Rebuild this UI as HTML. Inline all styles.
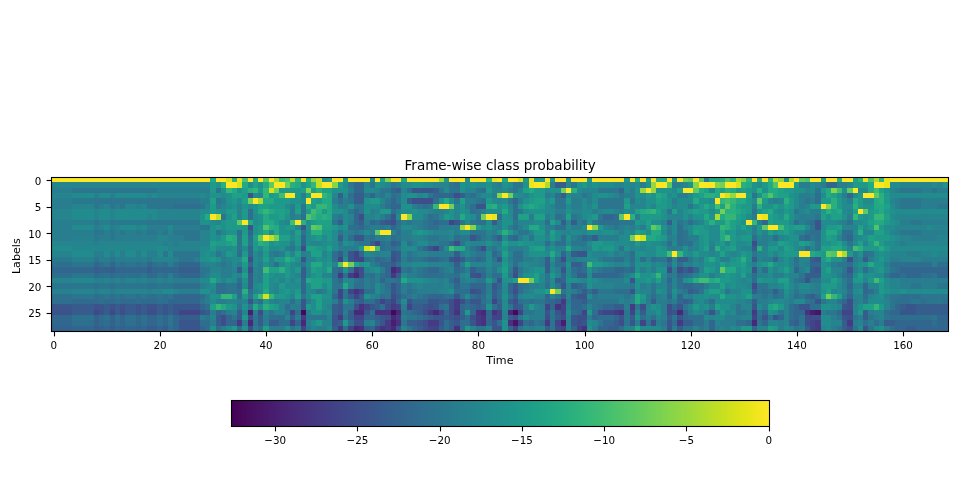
<!DOCTYPE html>
<html><head><meta charset="utf-8"><title>Frame-wise class probability</title>
<style>
html,body{margin:0;padding:0;background:#fff;}
body{width:960px;height:480px;overflow:hidden;}
svg{display:block;}
text{font-family:"DejaVu Sans","Liberation Sans",sans-serif;font-size:11.11px;fill:#000;}
.t{font-size:13.5px;}
.m{text-anchor:middle;}
.e{text-anchor:end;}
.k{stroke:#000;stroke-width:1.1;fill:none;}
</style></head><body>
<svg width="960" height="480" viewBox="0 0 960 480">
<defs><linearGradient id="g" x1="0" x2="1" y1="0" y2="0">
<stop offset="0.0000" stop-color="#440154"/>
<stop offset="0.0156" stop-color="#46075a"/>
<stop offset="0.0312" stop-color="#470d60"/>
<stop offset="0.0469" stop-color="#471365"/>
<stop offset="0.0625" stop-color="#48186a"/>
<stop offset="0.0781" stop-color="#481d6f"/>
<stop offset="0.0938" stop-color="#482374"/>
<stop offset="0.1094" stop-color="#482878"/>
<stop offset="0.1250" stop-color="#472d7b"/>
<stop offset="0.1406" stop-color="#46327e"/>
<stop offset="0.1562" stop-color="#453781"/>
<stop offset="0.1719" stop-color="#443b84"/>
<stop offset="0.1875" stop-color="#424086"/>
<stop offset="0.2031" stop-color="#404588"/>
<stop offset="0.2188" stop-color="#3e4989"/>
<stop offset="0.2344" stop-color="#3d4e8a"/>
<stop offset="0.2500" stop-color="#3b528b"/>
<stop offset="0.2656" stop-color="#39568c"/>
<stop offset="0.2812" stop-color="#375b8d"/>
<stop offset="0.2969" stop-color="#355f8d"/>
<stop offset="0.3125" stop-color="#33638d"/>
<stop offset="0.3281" stop-color="#31678e"/>
<stop offset="0.3438" stop-color="#2f6b8e"/>
<stop offset="0.3594" stop-color="#2e6f8e"/>
<stop offset="0.3750" stop-color="#2c728e"/>
<stop offset="0.3906" stop-color="#2a768e"/>
<stop offset="0.4062" stop-color="#297a8e"/>
<stop offset="0.4219" stop-color="#277e8e"/>
<stop offset="0.4375" stop-color="#26828e"/>
<stop offset="0.4531" stop-color="#25858e"/>
<stop offset="0.4688" stop-color="#23898e"/>
<stop offset="0.4844" stop-color="#228d8d"/>
<stop offset="0.5000" stop-color="#21918c"/>
<stop offset="0.5156" stop-color="#1f948c"/>
<stop offset="0.5312" stop-color="#1f988b"/>
<stop offset="0.5469" stop-color="#1e9c89"/>
<stop offset="0.5625" stop-color="#1fa088"/>
<stop offset="0.5781" stop-color="#20a386"/>
<stop offset="0.5938" stop-color="#22a785"/>
<stop offset="0.6094" stop-color="#25ab82"/>
<stop offset="0.6250" stop-color="#28ae80"/>
<stop offset="0.6406" stop-color="#2db27d"/>
<stop offset="0.6562" stop-color="#32b67a"/>
<stop offset="0.6719" stop-color="#38b977"/>
<stop offset="0.6875" stop-color="#3fbc73"/>
<stop offset="0.7031" stop-color="#46c06f"/>
<stop offset="0.7188" stop-color="#4ec36b"/>
<stop offset="0.7344" stop-color="#56c667"/>
<stop offset="0.7500" stop-color="#5ec962"/>
<stop offset="0.7656" stop-color="#67cc5c"/>
<stop offset="0.7812" stop-color="#70cf57"/>
<stop offset="0.7969" stop-color="#7ad151"/>
<stop offset="0.8125" stop-color="#84d44b"/>
<stop offset="0.8281" stop-color="#8ed645"/>
<stop offset="0.8438" stop-color="#98d83e"/>
<stop offset="0.8594" stop-color="#a2da37"/>
<stop offset="0.8750" stop-color="#addc30"/>
<stop offset="0.8906" stop-color="#b8de29"/>
<stop offset="0.9062" stop-color="#c2df23"/>
<stop offset="0.9219" stop-color="#cde11d"/>
<stop offset="0.9375" stop-color="#d8e219"/>
<stop offset="0.9531" stop-color="#e2e418"/>
<stop offset="0.9688" stop-color="#ece51b"/>
<stop offset="0.9844" stop-color="#f6e620"/>
<stop offset="1.0000" stop-color="#fde725"/>
</linearGradient></defs>
<rect width="960" height="480" fill="#fff"/>
<g shape-rendering="crispEdges">
<path fill="#fde725" d="M51 177h159v5h-159zM216 177h10v5h-10zM248 177h5v5h-5zM258 177h5v5h-5zM269 177h5v5h-5zM301 177h5v5h-5zM332 177h11v5h-11zM348 177h22v5h-22zM375 177h5v5h-5zM391 177h10v5h-10zM407 177h32v5h-32zM449 177h16v5h-16zM470 177h16v5h-16zM497 177h5v5h-5zM508 177h10v5h-10zM545 177h5v5h-5zM555 177h11v5h-11zM571 177h16v5h-16zM592 177h32v5h-32zM630 177h5v5h-5zM640 177h6v5h-6zM651 177h5v5h-5zM667 177h5v5h-5zM677 177h6v5h-6zM693 177h6v5h-6zM752 177h5v5h-5zM762 177h6v5h-6zM794 177h5v5h-5zM810 177h11v5h-11zM826 177h11v5h-11zM842 177h11v5h-11zM890 177h58v5h-58zM226 182h11v6h-11zM274 182h11v6h-11zM322 182h10v6h-10zM534 182h11v6h-11zM656 182h11v6h-11zM699 182h16v6h-16zM725 182h11v6h-11zM778 182h16v6h-16zM874 182h10v6h-10zM566 188h5v5h-5zM646 188h5v5h-5zM683 188h10v5h-10zM853 188h5v5h-5zM285 193h10v5h-10zM311 193h11v5h-11zM502 193h6v5h-6zM720 193h5v5h-5zM736 193h10v5h-10zM863 193h11v5h-11zM253 198h5v6h-5zM306 198h5v6h-5zM715 198h5v6h-5zM439 204h10v5h-10zM821 204h5v5h-5zM858 209h5v5h-5zM210 214h6v6h-6zM401 214h6v6h-6zM486 214h6v6h-6zM624 214h6v6h-6zM757 214h5v6h-5zM242 220h6v5h-6zM295 220h6v5h-6zM746 220h6v5h-6zM465 225h5v5h-5zM587 225h5v5h-5zM768 225h10v5h-10zM380 230h11v5h-11zM263 235h6v6h-6zM635 235h5v6h-5zM370 246h5v5h-5zM672 251h5v6h-5zM799 251h11v6h-11zM837 251h5v6h-5zM343 262h5v5h-5zM518 278h11v5h-11zM550 289h5v5h-5z"/>
<path fill="#ece51b" d="M237 177h5v5h-5zM492 177h5v5h-5zM529 177h5v5h-5zM863 177h5v5h-5zM884 177h6v5h-6zM529 182h5v6h-5zM884 182h6v6h-6zM492 214h5v6h-5zM762 214h6v6h-6z"/>
<path fill="#d8e219" d="M226 177h6v5h-6zM518 177h5v5h-5zM237 182h5v6h-5zM736 182h5v6h-5zM269 188h5v5h-5zM725 193h5v5h-5zM640 235h6v6h-6zM364 246h6v5h-6zM263 294h6v5h-6z"/>
<path fill="#c2df23" d="M290 177h5v5h-5zM316 177h6v5h-6zM773 177h5v5h-5zM316 182h6v6h-6zM216 214h5v6h-5zM269 235h5v6h-5z"/>
<path fill="#addc30" d="M274 177h5v5h-5zM736 177h5v5h-5zM789 177h5v5h-5zM874 177h5v5h-5zM545 182h5v6h-5zM258 198h5v6h-5zM715 214h5v6h-5zM842 251h5v6h-5z"/>
<path fill="#98d83e" d="M311 177h5v5h-5zM439 177h5v5h-5zM778 177h6v5h-6zM651 182h5v6h-5zM640 188h6v5h-6zM651 188h5v5h-5zM730 193h6v5h-6zM460 225h5v5h-5z"/>
<path fill="#86d549" d="M385 177h6v5h-6zM741 177h5v5h-5zM332 182h6v6h-6zM693 182h6v6h-6zM715 182h5v6h-5zM306 188h5v5h-5zM831 188h6v5h-6zM497 193h5v5h-5zM826 204h5v5h-5zM407 214h5v6h-5zM470 225h6v5h-6zM592 225h6v5h-6z"/>
<path fill="#73d056" d="M683 177h5v5h-5zM285 182h5v6h-5zM720 182h5v6h-5zM274 188h5v5h-5zM561 188h5v5h-5zM508 193h5v5h-5zM248 198h5v6h-5zM449 204h5v5h-5zM720 209h5v5h-5zM481 214h5v6h-5zM274 235h5v6h-5zM630 235h5v6h-5zM348 262h6v5h-6zM529 278h5v5h-5zM555 289h6v5h-6zM826 294h5v5h-5z"/>
<path fill="#60ca60" d="M263 177h6v5h-6zM688 177h5v5h-5zM699 177h5v5h-5zM799 177h6v5h-6zM269 182h5v6h-5zM667 182h5v6h-5zM693 188h6v5h-6zM847 188h6v5h-6zM874 193h5v5h-5zM757 198h5v6h-5zM725 204h5v5h-5zM863 209h5v5h-5zM619 214h5v6h-5zM237 220h5v5h-5zM311 225h5v5h-5zM651 225h5v5h-5zM762 225h6v5h-6zM375 230h5v5h-5zM258 235h5v6h-5zM826 251h5v6h-5zM720 267h5v6h-5z"/>
<path fill="#50c46a" d="M242 177h6v5h-6zM285 177h5v5h-5zM725 177h5v5h-5zM805 177h5v5h-5zM868 177h6v5h-6zM773 182h5v6h-5zM768 193h5v5h-5zM306 214h5v6h-5zM263 225h6v5h-6zM316 225h6v5h-6zM874 225h5v5h-5zM831 251h6v6h-6zM338 262h5v5h-5z"/>
<path fill="#23888e" d="M72 246h85v5h-85zM72 278h22v5h-22z"/>
<path fill="#26818e" d="M94 193h5v5h-5zM110 193h5v5h-5zM72 235h22v6h-22zM94 241h5v5h-5zM72 257h22v5h-22zM94 278h10v5h-10zM136 278h5v5h-5zM51 289h21v5h-21zM147 289h5v5h-5z"/>
<path fill="#29798e" d="M72 198h22v6h-22zM115 220h32v5h-32zM136 230h5v5h-5zM94 235h5v6h-5zM110 235h5v6h-5zM51 257h21v5h-21zM147 257h5v5h-5z"/>
<path fill="#2c718e" d="M104 273h6v5h-6zM115 273h5v5h-5zM125 273h11v5h-11zM94 283h5v6h-5zM110 283h5v6h-5zM147 283h10v6h-10zM51 294h21v5h-21zM99 294h5v5h-5zM72 315h22v5h-22zM104 315h6v5h-6zM115 315h5v5h-5zM125 315h11v5h-11zM141 315h6v5h-6z"/>
<path fill="#306a8e" d="M94 273h5v5h-5zM110 273h5v5h-5zM147 273h10v5h-10zM72 299h27v5h-27zM104 299h11v5h-11zM120 299h16v5h-16zM141 299h16v5h-16zM99 315h5v5h-5zM99 320h5v6h-5z"/>
<path fill="#33628d" d="M99 267h11v6h-11zM94 315h5v5h-5zM110 315h5v5h-5zM94 320h5v6h-5zM110 320h5v6h-5zM51 326h21v5h-21zM99 326h5v5h-5zM120 326h5v5h-5zM136 326h5v5h-5z"/>
<path fill="#375b8d" d="M72 304h22v6h-22zM104 304h6v6h-6zM115 304h5v6h-5zM125 304h11v6h-11zM141 304h6v6h-6zM72 310h22v5h-22zM104 310h6v5h-6zM115 310h5v5h-5zM125 310h11v5h-11zM141 310h6v5h-6z"/>
<path fill="#3b528b" d="M94 304h5v6h-5zM110 304h5v6h-5zM120 304h5v6h-5zM136 304h5v6h-5zM147 304h10v6h-10zM51 310h21v5h-21zM99 310h5v5h-5zM136 310h5v5h-5z"/>
<path fill="#3e4989" d="M94 310h5v5h-5zM110 310h5v5h-5z"/>
<path fill="#40bd72" d="M279 177h6v5h-6zM837 188h5v5h-5zM874 188h5v5h-5zM279 193h6v5h-6zM725 198h5v6h-5zM715 204h5v5h-5zM311 209h5v5h-5zM290 220h5v5h-5zM656 225h5v5h-5zM778 225h6v5h-6zM725 235h5v6h-5zM375 246h5v5h-5zM449 246h5v5h-5zM853 246h5v5h-5zM667 251h5v6h-5zM587 262h5v5h-5zM263 267h6v6h-6zM699 278h10v5h-10zM874 278h5v5h-5zM258 294h5v5h-5z"/>
<path fill="#34b679" d="M232 177h5v5h-5zM295 177h6v5h-6zM486 177h6v5h-6zM730 177h6v5h-6zM746 177h6v5h-6zM768 177h5v5h-5zM879 177h5v5h-5zM311 182h5v6h-5zM226 188h6v5h-6zM253 188h5v5h-5zM263 188h6v5h-6zM263 193h6v5h-6zM322 193h5v5h-5zM720 198h5v6h-5zM730 198h6v6h-6zM316 204h11v5h-11zM433 204h6v5h-6zM263 209h6v5h-6zM651 209h5v5h-5zM311 214h5v6h-5zM725 214h11v6h-11zM853 214h5v6h-5zM874 214h10v6h-10zM752 220h5v5h-5zM720 225h5v5h-5zM874 241h5v5h-5zM677 251h6v6h-6zM656 273h5v5h-5zM221 294h11v5h-11zM269 294h5v5h-5zM831 294h6v5h-6zM216 304h5v6h-5zM874 304h5v6h-5z"/>
<path fill="#2ab07f" d="M253 177h5v5h-5zM306 177h5v5h-5zM635 177h5v5h-5zM656 177h11v5h-11zM720 177h5v5h-5zM757 177h5v5h-5zM837 177h5v5h-5zM858 177h5v5h-5zM221 182h5v6h-5zM290 182h5v6h-5zM741 182h5v6h-5zM248 188h5v5h-5zM316 188h6v5h-6zM571 188h6v5h-6zM725 188h5v5h-5zM757 188h5v5h-5zM704 193h11v5h-11zM762 193h6v5h-6zM879 193h5v5h-5zM784 198h5v6h-5zM831 198h6v6h-6zM879 198h5v6h-5zM492 204h5v5h-5zM730 204h6v5h-6zM757 204h5v5h-5zM831 204h6v5h-6zM853 204h5v5h-5zM316 209h6v5h-6zM646 209h5v5h-5zM725 209h11v5h-11zM826 209h5v5h-5zM322 214h5v6h-5zM630 214h5v6h-5zM301 220h5v5h-5zM709 220h6v5h-6zM725 220h5v5h-5zM269 225h5v5h-5zM725 225h5v5h-5zM311 230h11v5h-11zM502 230h6v5h-6zM858 230h5v5h-5zM226 235h6v6h-6zM258 241h5v5h-5zM715 246h5v5h-5zM757 246h5v5h-5zM858 246h5v5h-5zM285 257h5v5h-5zM741 257h5v5h-5zM279 267h6v6h-6zM693 278h6v5h-6zM715 278h5v5h-5zM242 289h6v5h-6zM263 304h6v6h-6z"/>
<path fill="#23a983" d="M210 177h6v5h-6zM401 177h6v5h-6zM502 177h6v5h-6zM709 177h11v5h-11zM242 182h6v6h-6zM263 182h6v6h-6zM295 182h6v6h-6zM746 182h6v6h-6zM768 182h5v6h-5zM868 182h6v6h-6zM232 188h5v5h-5zM529 188h5v5h-5zM699 188h5v5h-5zM715 188h5v5h-5zM730 188h6v5h-6zM768 188h10v5h-10zM826 188h5v5h-5zM868 188h6v5h-6zM327 193h5v5h-5zM656 193h5v5h-5zM715 193h5v5h-5zM773 193h5v5h-5zM826 193h5v5h-5zM263 198h11v6h-11zM322 198h10v6h-10zM444 198h5v6h-5zM693 198h6v6h-6zM736 198h10v6h-10zM853 198h5v6h-5zM874 198h5v6h-5zM306 204h5v5h-5zM327 204h5v5h-5zM486 204h6v5h-6zM529 204h5v5h-5zM704 204h5v5h-5zM874 204h10v5h-10zM258 209h5v5h-5zM269 209h5v5h-5zM327 209h5v5h-5zM502 209h6v5h-6zM640 209h6v5h-6zM736 209h5v5h-5zM768 209h5v5h-5zM837 209h5v5h-5zM879 209h5v5h-5zM205 214h5v6h-5zM263 214h6v6h-6zM316 214h6v6h-6zM327 214h5v6h-5zM460 214h5v6h-5zM704 214h5v6h-5zM720 214h5v6h-5zM784 214h5v6h-5zM248 220h5v5h-5zM263 220h11v5h-11zM874 220h10v5h-10zM274 225h5v5h-5zM529 225h10v5h-10zM263 230h6v5h-6zM274 230h5v5h-5zM651 230h10v5h-10zM720 230h5v5h-5zM826 230h11v5h-11zM232 235h5v6h-5zM646 235h10v6h-10zM720 235h5v6h-5zM232 241h5v5h-5zM263 241h6v5h-6zM454 246h11v5h-11zM566 246h5v5h-5zM831 246h11v5h-11zM879 246h5v5h-5zM550 251h5v6h-5zM810 251h5v6h-5zM242 257h6v5h-6zM709 257h6v5h-6zM826 257h5v5h-5zM311 262h11v5h-11zM768 262h5v5h-5zM868 262h6v5h-6zM327 267h5v6h-5zM725 267h11v6h-11zM635 273h5v5h-5zM210 278h6v5h-6zM306 278h5v5h-5zM401 278h6v5h-6zM709 278h6v5h-6zM343 283h5v6h-5zM263 289h6v5h-6zM635 294h5v5h-5zM720 294h5v5h-5zM635 299h5v5h-5zM221 304h5v6h-5zM253 304h5v6h-5zM773 304h5v6h-5zM635 326h5v5h-5z"/>
<path fill="#1fa187" d="M380 177h5v5h-5zM539 177h6v5h-6zM646 177h5v5h-5zM821 177h5v5h-5zM853 177h5v5h-5zM253 182h5v6h-5zM306 182h5v6h-5zM242 188h6v5h-6zM301 188h5v5h-5zM311 188h5v5h-5zM322 188h10v5h-10zM523 188h6v5h-6zM677 188h6v5h-6zM704 188h5v5h-5zM720 188h5v5h-5zM741 188h5v5h-5zM778 188h6v5h-6zM879 188h5v5h-5zM232 193h10v5h-10zM274 193h5v5h-5zM306 193h5v5h-5zM661 193h6v5h-6zM699 193h5v5h-5zM746 193h6v5h-6zM778 193h11v5h-11zM831 193h6v5h-6zM210 198h6v6h-6zM242 198h6v6h-6zM311 198h5v6h-5zM460 198h5v6h-5zM534 198h11v6h-11zM656 198h5v6h-5zM258 204h11v5h-11zM523 204h6v5h-6zM534 204h5v5h-5zM624 204h6v5h-6zM720 204h5v5h-5zM736 204h5v5h-5zM773 204h5v5h-5zM784 204h5v5h-5zM884 204h6v5h-6zM274 209h11v5h-11zM295 209h6v5h-6zM635 209h5v5h-5zM656 209h5v5h-5zM672 209h5v5h-5zM693 209h6v5h-6zM741 209h5v5h-5zM762 209h6v5h-6zM831 209h6v5h-6zM853 209h5v5h-5zM874 209h5v5h-5zM232 214h5v6h-5zM279 214h6v6h-6zM518 214h11v6h-11zM534 214h11v6h-11zM566 214h5v6h-5zM736 214h5v6h-5zM768 214h5v6h-5zM821 214h5v6h-5zM831 214h11v6h-11zM884 214h6v6h-6zM316 220h16v5h-16zM550 220h5v5h-5zM646 220h5v5h-5zM730 220h6v5h-6zM768 220h5v5h-5zM868 220h6v5h-6zM322 225h10v5h-10zM730 225h6v5h-6zM741 225h5v5h-5zM784 225h5v5h-5zM794 225h11v5h-11zM837 225h5v5h-5zM858 225h5v5h-5zM295 230h6v5h-6zM550 230h5v5h-5zM635 230h5v5h-5zM693 230h6v5h-6zM768 230h5v5h-5zM784 230h5v5h-5zM874 230h10v5h-10zM242 235h6v6h-6zM253 235h5v6h-5zM279 235h11v6h-11zM656 235h5v6h-5zM826 235h5v6h-5zM868 235h6v6h-6zM210 241h6v5h-6zM226 241h6v5h-6zM242 241h6v5h-6zM502 241h6v5h-6zM778 241h6v5h-6zM799 241h6v5h-6zM837 241h5v5h-5zM858 241h5v5h-5zM263 246h6v5h-6zM306 246h10v5h-10zM327 246h5v5h-5zM534 246h11v5h-11zM704 246h5v5h-5zM730 246h6v5h-6zM784 246h5v5h-5zM821 246h10v5h-10zM295 251h6v6h-6zM311 251h11v6h-11zM502 251h6v6h-6zM720 251h5v6h-5zM815 251h6v6h-6zM263 257h6v5h-6zM290 257h5v5h-5zM354 262h5v5h-5zM465 262h5v5h-5zM720 262h5v5h-5zM741 262h5v5h-5zM269 267h10v6h-10zM311 267h5v6h-5zM502 267h6v6h-6zM704 267h5v6h-5zM784 267h5v6h-5zM826 267h5v6h-5zM242 273h6v5h-6zM263 273h6v5h-6zM534 273h5v5h-5zM741 273h5v5h-5zM858 273h5v5h-5zM263 278h6v5h-6zM311 278h11v5h-11zM513 278h5v5h-5zM534 278h5v5h-5zM656 278h5v5h-5zM778 278h11v5h-11zM831 278h6v5h-6zM879 278h5v5h-5zM263 283h6v6h-6zM311 283h11v6h-11zM720 283h5v6h-5zM545 289h5v5h-5zM709 289h11v5h-11zM826 289h5v5h-5zM232 294h5v5h-5zM253 294h5v5h-5zM295 294h6v5h-6zM311 294h11v5h-11zM746 294h6v5h-6zM821 294h5v5h-5zM837 294h5v5h-5zM316 299h6v5h-6zM210 304h6v6h-6zM269 304h5v6h-5zM316 304h6v6h-6zM715 304h5v6h-5zM768 304h5v6h-5zM863 304h11v6h-11zM263 326h6v5h-6zM768 326h5v5h-5z"/>
<path fill="#1f9a8a" d="M327 177h5v5h-5zM343 177h5v5h-5zM444 177h5v5h-5zM523 177h6v5h-6zM534 177h5v5h-5zM550 177h5v5h-5zM587 177h5v5h-5zM624 177h6v5h-6zM672 177h5v5h-5zM210 182h6v6h-6zM338 182h5v6h-5zM582 182h5v6h-5zM762 182h6v6h-6zM794 182h5v6h-5zM853 182h15v6h-15zM210 188h6v5h-6zM258 188h5v5h-5zM279 188h22v5h-22zM486 188h6v5h-6zM534 188h11v5h-11zM736 188h5v5h-5zM746 188h6v5h-6zM784 188h10v5h-10zM821 188h5v5h-5zM242 193h6v5h-6zM269 193h5v5h-5zM295 193h6v5h-6zM534 193h11v5h-11zM646 193h5v5h-5zM693 193h6v5h-6zM858 193h5v5h-5zM884 193h6v5h-6zM232 198h5v6h-5zM274 198h16v6h-16zM316 198h6v6h-6zM370 198h10v6h-10zM486 198h6v6h-6zM529 198h5v6h-5zM550 198h5v6h-5zM566 198h5v6h-5zM624 198h6v6h-6zM661 198h6v6h-6zM746 198h6v6h-6zM762 198h6v6h-6zM789 198h5v6h-5zM821 198h10v6h-10zM837 198h5v6h-5zM858 198h5v6h-5zM884 198h6v6h-6zM210 204h6v5h-6zM269 204h16v5h-16zM295 204h6v5h-6zM311 204h5v5h-5zM502 204h6v5h-6zM539 204h6v5h-6zM656 204h11v5h-11zM699 204h5v5h-5zM709 204h6v5h-6zM741 204h11v5h-11zM789 204h5v5h-5zM810 204h11v5h-11zM837 204h5v5h-5zM858 204h5v5h-5zM210 209h6v5h-6zM226 209h11v5h-11zM242 209h6v5h-6zM285 209h5v5h-5zM306 209h5v5h-5zM322 209h5v5h-5zM380 209h11v5h-11zM688 209h5v5h-5zM699 209h10v5h-10zM715 209h5v5h-5zM746 209h6v5h-6zM784 209h5v5h-5zM821 209h5v5h-5zM868 209h6v5h-6zM884 209h6v5h-6zM242 214h6v6h-6zM269 214h10v6h-10zM444 214h5v6h-5zM592 214h6v6h-6zM640 214h21v6h-21zM741 214h5v6h-5zM773 214h5v6h-5zM858 214h5v6h-5zM868 214h6v6h-6zM226 220h11v5h-11zM274 220h5v5h-5zM311 220h5v5h-5zM635 220h5v5h-5zM704 220h5v5h-5zM715 220h10v5h-10zM736 220h5v5h-5zM773 220h16v5h-16zM884 220h6v5h-6zM216 225h5v5h-5zM226 225h22v5h-22zM258 225h5v5h-5zM285 225h10v5h-10zM332 225h6v5h-6zM476 225h5v5h-5zM598 225h5v5h-5zM646 225h5v5h-5zM693 225h11v5h-11zM757 225h5v5h-5zM789 225h5v5h-5zM826 225h11v5h-11zM868 225h6v5h-6zM879 225h5v5h-5zM242 230h6v5h-6zM258 230h5v5h-5zM322 230h10v5h-10zM417 230h6v5h-6zM508 230h5v5h-5zM534 230h11v5h-11zM640 230h6v5h-6zM699 230h10v5h-10zM730 230h6v5h-6zM778 230h6v5h-6zM221 235h5v6h-5zM295 235h6v6h-6zM316 235h6v6h-6zM327 235h5v6h-5zM550 235h5v6h-5zM661 235h6v6h-6zM704 235h5v6h-5zM730 235h6v6h-6zM741 235h11v6h-11zM831 235h6v6h-6zM874 235h16v6h-16zM216 241h10v5h-10zM253 241h5v5h-5zM274 241h5v5h-5zM295 241h6v5h-6zM518 241h5v5h-5zM592 241h11v5h-11zM635 241h5v5h-5zM704 241h5v5h-5zM720 241h5v5h-5zM730 241h6v5h-6zM784 241h5v5h-5zM805 241h5v5h-5zM831 241h6v5h-6zM868 241h6v5h-6zM879 241h5v5h-5zM210 246h6v5h-6zM253 246h5v5h-5zM316 246h6v5h-6zM359 246h5v5h-5zM529 246h5v5h-5zM592 246h6v5h-6zM603 246h11v5h-11zM656 246h5v5h-5zM725 246h5v5h-5zM768 246h10v5h-10zM789 246h5v5h-5zM842 246h5v5h-5zM863 246h16v5h-16zM884 246h6v5h-6zM226 251h6v6h-6zM242 251h6v6h-6zM263 251h6v6h-6zM285 251h5v6h-5zM656 251h11v6h-11zM693 251h6v6h-6zM741 251h5v6h-5zM784 251h15v6h-15zM821 251h5v6h-5zM847 251h6v6h-6zM210 257h6v5h-6zM274 257h11v5h-11zM704 257h5v5h-5zM736 257h5v5h-5zM821 257h5v5h-5zM879 257h5v5h-5zM242 262h6v5h-6zM285 262h5v5h-5zM327 262h5v5h-5zM364 262h6v5h-6zM502 262h6v5h-6zM592 262h11v5h-11zM730 262h11v5h-11zM762 262h6v5h-6zM285 267h5v6h-5zM295 267h6v6h-6zM316 267h6v6h-6zM709 267h6v6h-6zM741 267h5v6h-5zM879 267h5v6h-5zM285 273h5v5h-5zM316 273h6v5h-6zM502 273h6v5h-6zM550 273h5v5h-5zM651 273h5v5h-5zM725 273h5v5h-5zM322 278h10v5h-10zM486 278h6v5h-6zM646 278h5v5h-5zM688 278h5v5h-5zM720 278h10v5h-10zM757 278h5v5h-5zM853 278h10v5h-10zM868 278h6v5h-6zM279 283h6v6h-6zM327 283h5v6h-5zM784 283h5v6h-5zM821 283h16v6h-16zM879 283h5v6h-5zM285 289h5v5h-5zM295 289h6v5h-6zM879 289h5v5h-5zM242 294h6v5h-6zM274 294h11v5h-11zM640 294h6v5h-6zM263 299h6v5h-6zM226 304h6v6h-6zM274 304h5v6h-5zM306 304h5v6h-5zM529 304h5v6h-5zM693 304h6v6h-6zM778 304h6v6h-6zM879 304h5v6h-5zM465 310h5v5h-5zM587 310h5v5h-5zM720 310h5v5h-5zM858 310h5v5h-5zM242 315h6v5h-6zM316 320h6v6h-6zM343 320h5v6h-5zM232 326h5v5h-5zM465 326h5v5h-5zM741 326h11v5h-11zM773 326h5v5h-5z"/>
<path fill="#20928c" d="M322 177h5v5h-5zM465 177h5v5h-5zM566 177h5v5h-5zM784 177h5v5h-5zM216 182h5v6h-5zM258 182h5v6h-5zM301 182h5v6h-5zM375 182h5v6h-5zM412 182h11v6h-11zM460 182h5v6h-5zM470 182h6v6h-6zM486 182h6v6h-6zM502 182h6v6h-6zM523 182h6v6h-6zM577 182h5v6h-5zM592 182h6v6h-6zM646 182h5v6h-5zM688 182h5v6h-5zM752 182h5v6h-5zM943 182h5v6h-5zM221 188h5v5h-5zM237 188h5v5h-5zM332 188h16v5h-16zM460 188h5v5h-5zM550 188h11v5h-11zM635 188h5v5h-5zM656 188h16v5h-16zM752 188h5v5h-5zM762 188h6v5h-6zM794 188h11v5h-11zM842 188h5v5h-5zM884 188h6v5h-6zM210 193h11v5h-11zM226 193h6v5h-6zM407 193h10v5h-10zM513 193h5v5h-5zM529 193h5v5h-5zM598 193h10v5h-10zM635 193h5v5h-5zM651 193h5v5h-5zM672 193h5v5h-5zM757 193h5v5h-5zM789 193h5v5h-5zM837 193h5v5h-5zM226 198h6v6h-6zM290 198h11v6h-11zM364 198h6v6h-6zM439 198h5v6h-5zM523 198h6v6h-6zM646 198h10v6h-10zM667 198h5v6h-5zM699 198h10v6h-10zM232 204h5v5h-5zM242 204h6v5h-6zM253 204h5v5h-5zM348 204h6v5h-6zM401 204h11v5h-11zM460 204h5v5h-5zM497 204h5v5h-5zM518 204h5v5h-5zM592 204h6v5h-6zM646 204h5v5h-5zM667 204h5v5h-5zM762 204h11v5h-11zM778 204h6v5h-6zM863 204h11v5h-11zM216 209h5v5h-5zM253 209h5v5h-5zM332 209h11v5h-11zM364 209h6v5h-6zM412 209h5v5h-5zM449 209h5v5h-5zM460 209h5v5h-5zM529 209h16v5h-16zM566 209h5v5h-5zM661 209h6v5h-6zM683 209h5v5h-5zM757 209h5v5h-5zM773 209h5v5h-5zM789 209h5v5h-5zM890 209h5v5h-5zM200 214h5v6h-5zM226 214h6v6h-6zM258 214h5v6h-5zM285 214h5v6h-5zM449 214h5v6h-5zM465 214h5v6h-5zM502 214h6v6h-6zM587 214h5v6h-5zM661 214h6v6h-6zM683 214h5v6h-5zM693 214h11v6h-11zM709 214h6v6h-6zM778 214h6v6h-6zM789 214h5v6h-5zM826 214h5v6h-5zM842 214h5v6h-5zM863 214h5v6h-5zM200 220h10v5h-10zM221 220h5v5h-5zM258 220h5v5h-5zM502 220h11v5h-11zM587 220h5v5h-5zM640 220h6v5h-6zM741 220h5v5h-5zM863 220h5v5h-5zM890 220h5v5h-5zM210 225h6v5h-6zM221 225h5v5h-5zM253 225h5v5h-5zM279 225h6v5h-6zM306 225h5v5h-5zM343 225h5v5h-5zM486 225h6v5h-6zM502 225h6v5h-6zM539 225h6v5h-6zM661 225h6v5h-6zM704 225h5v5h-5zM736 225h5v5h-5zM746 225h6v5h-6zM210 230h6v5h-6zM226 230h11v5h-11zM253 230h5v5h-5zM279 230h11v5h-11zM412 230h5v5h-5zM423 230h5v5h-5zM497 230h5v5h-5zM587 230h11v5h-11zM603 230h11v5h-11zM725 230h5v5h-5zM746 230h6v5h-6zM757 230h5v5h-5zM773 230h5v5h-5zM789 230h5v5h-5zM821 230h5v5h-5zM837 230h5v5h-5zM884 230h6v5h-6zM210 235h6v6h-6zM311 235h5v6h-5zM534 235h11v6h-11zM566 235h5v6h-5zM699 235h5v6h-5zM736 235h5v6h-5zM789 235h10v6h-10zM821 235h5v6h-5zM863 235h5v6h-5zM890 235h5v6h-5zM269 241h5v5h-5zM279 241h11v5h-11zM327 241h5v5h-5zM343 241h5v5h-5zM486 241h6v5h-6zM508 241h10v5h-10zM523 241h11v5h-11zM603 241h11v5h-11zM646 241h5v5h-5zM699 241h5v5h-5zM715 241h5v5h-5zM746 241h6v5h-6zM789 241h5v5h-5zM821 241h10v5h-10zM232 246h5v5h-5zM279 246h6v5h-6zM322 246h5v5h-5zM502 246h6v5h-6zM550 246h5v5h-5zM598 246h5v5h-5zM624 246h6v5h-6zM661 246h6v5h-6zM683 246h5v5h-5zM699 246h5v5h-5zM720 246h5v5h-5zM205 251h5v6h-5zM232 251h5v6h-5zM327 251h5v6h-5zM529 251h16v6h-16zM635 251h11v6h-11zM683 251h5v6h-5zM746 251h6v6h-6zM768 251h5v6h-5zM778 251h6v6h-6zM858 251h5v6h-5zM879 251h5v6h-5zM200 257h10v5h-10zM216 257h5v5h-5zM295 257h6v5h-6zM316 257h6v5h-6zM327 257h5v5h-5zM502 257h6v5h-6zM550 257h5v5h-5zM715 257h5v5h-5zM730 257h6v5h-6zM746 257h6v5h-6zM784 257h5v5h-5zM831 257h11v5h-11zM263 262h6v5h-6zM322 262h5v5h-5zM359 262h5v5h-5zM566 262h5v5h-5zM603 262h5v5h-5zM635 262h16v5h-16zM704 262h11v5h-11zM725 262h5v5h-5zM757 262h5v5h-5zM773 262h5v5h-5zM784 262h5v5h-5zM821 262h5v5h-5zM858 262h10v5h-10zM874 262h10v5h-10zM242 267h6v6h-6zM322 267h5v6h-5zM343 267h5v6h-5zM375 267h5v6h-5zM534 267h11v6h-11zM587 267h5v6h-5zM635 267h5v6h-5zM656 267h11v6h-11zM736 267h5v6h-5zM746 267h6v6h-6zM768 267h5v6h-5zM778 267h6v6h-6zM821 267h5v6h-5zM874 267h5v6h-5zM269 273h5v5h-5zM311 273h5v5h-5zM523 273h11v5h-11zM640 273h11v5h-11zM699 273h10v5h-10zM720 273h5v5h-5zM730 273h6v5h-6zM821 273h10v5h-10zM868 273h6v5h-6zM216 278h5v5h-5zM226 278h6v5h-6zM242 278h6v5h-6zM274 278h5v5h-5zM285 278h5v5h-5zM295 278h6v5h-6zM407 278h16v5h-16zM502 278h11v5h-11zM566 278h11v5h-11zM587 278h5v5h-5zM635 278h11v5h-11zM683 278h5v5h-5zM730 278h6v5h-6zM762 278h11v5h-11zM837 278h5v5h-5zM258 283h5v6h-5zM587 283h5v6h-5zM635 283h5v6h-5zM730 283h6v6h-6zM200 289h10v5h-10zM279 289h6v5h-6zM327 289h5v5h-5zM449 289h5v5h-5zM534 289h11v5h-11zM656 289h5v5h-5zM672 289h5v5h-5zM704 289h5v5h-5zM720 289h5v5h-5zM741 289h11v5h-11zM784 289h5v5h-5zM821 289h5v5h-5zM858 289h5v5h-5zM884 289h6v5h-6zM900 289h6v5h-6zM210 294h11v5h-11zM285 294h5v5h-5zM322 294h10v5h-10zM364 294h6v5h-6zM502 294h6v5h-6zM704 294h5v5h-5zM725 294h11v5h-11zM741 294h5v5h-5zM879 294h5v5h-5zM343 299h5v5h-5zM640 299h6v5h-6zM232 304h5v6h-5zM242 304h6v6h-6zM486 304h6v6h-6zM651 304h5v6h-5zM704 304h5v6h-5zM720 304h10v6h-10zM821 304h10v6h-10zM858 304h5v6h-5zM311 310h11v5h-11zM656 310h5v5h-5zM768 310h5v5h-5zM635 315h5v5h-5zM502 320h6v6h-6zM210 326h6v5h-6zM242 326h6v5h-6zM285 326h5v5h-5zM502 326h6v5h-6zM587 326h5v5h-5zM879 326h5v5h-5z"/>
<path fill="#228b8d" d="M370 177h5v5h-5zM248 182h5v6h-5zM343 182h5v6h-5zM380 182h5v6h-5zM401 182h11v6h-11zM423 182h10v6h-10zM465 182h5v6h-5zM476 182h10v6h-10zM508 182h5v6h-5zM587 182h5v6h-5zM598 182h16v6h-16zM624 182h6v6h-6zM635 182h5v6h-5zM757 182h5v6h-5zM810 182h5v6h-5zM890 182h10v6h-10zM932 182h5v6h-5zM364 188h11v5h-11zM444 188h5v5h-5zM502 188h6v5h-6zM545 188h5v5h-5zM577 188h5v5h-5zM624 188h6v5h-6zM672 188h5v5h-5zM810 188h5v5h-5zM858 188h10v5h-10zM72 193h22v5h-22zM99 193h11v5h-11zM115 193h32v5h-32zM152 193h5v5h-5zM200 193h5v5h-5zM221 193h5v5h-5zM253 193h5v5h-5zM343 193h5v5h-5zM401 193h6v5h-6zM423 193h5v5h-5zM481 193h11v5h-11zM518 193h5v5h-5zM566 193h5v5h-5zM592 193h6v5h-6zM608 193h6v5h-6zM640 193h6v5h-6zM667 193h5v5h-5zM688 193h5v5h-5zM794 193h5v5h-5zM821 193h5v5h-5zM853 193h5v5h-5zM890 193h58v5h-58zM237 198h5v6h-5zM301 198h5v6h-5zM401 198h6v6h-6zM449 198h5v6h-5zM492 198h5v6h-5zM502 198h6v6h-6zM545 198h5v6h-5zM582 198h5v6h-5zM592 198h6v6h-6zM635 198h5v6h-5zM677 198h16v6h-16zM709 198h6v6h-6zM752 198h5v6h-5zM794 198h5v6h-5zM842 198h5v6h-5zM863 198h11v6h-11zM226 204h6v5h-6zM248 204h5v5h-5zM285 204h5v5h-5zM332 204h6v5h-6zM364 204h16v5h-16zM545 204h5v5h-5zM566 204h5v5h-5zM582 204h5v5h-5zM677 204h11v5h-11zM693 204h6v5h-6zM794 204h5v5h-5zM842 204h11v5h-11zM890 204h5v5h-5zM72 209h22v5h-22zM99 209h11v5h-11zM115 209h42v5h-42zM200 209h10v5h-10zM221 209h5v5h-5zM343 209h5v5h-5zM401 209h11v5h-11zM417 209h11v5h-11zM465 209h5v5h-5zM486 209h16v5h-16zM508 209h5v5h-5zM523 209h6v5h-6zM545 209h10v5h-10zM582 209h10v5h-10zM603 209h11v5h-11zM624 209h6v5h-6zM709 209h6v5h-6zM778 209h6v5h-6zM805 209h5v5h-5zM842 209h5v5h-5zM895 209h53v5h-53zM72 214h22v6h-22zM99 214h11v6h-11zM115 214h32v6h-32zM152 214h5v6h-5zM253 214h5v6h-5zM343 214h5v6h-5zM375 214h5v6h-5zM396 214h5v6h-5zM412 214h11v6h-11zM470 214h6v6h-6zM508 214h5v6h-5zM550 214h5v6h-5zM582 214h5v6h-5zM746 214h6v6h-6zM890 214h5v6h-5zM210 220h6v5h-6zM253 220h5v5h-5zM279 220h6v5h-6zM306 220h5v5h-5zM343 220h5v5h-5zM465 220h5v5h-5zM486 220h6v5h-6zM534 220h11v5h-11zM555 220h6v5h-6zM651 220h10v5h-10zM672 220h5v5h-5zM789 220h5v5h-5zM821 220h16v5h-16zM853 220h10v5h-10zM895 220h5v5h-5zM72 225h22v5h-22zM104 225h6v5h-6zM120 225h16v5h-16zM141 225h6v5h-6zM168 225h5v5h-5zM338 225h5v5h-5zM401 225h11v5h-11zM481 225h5v5h-5zM523 225h6v5h-6zM566 225h5v5h-5zM582 225h5v5h-5zM635 225h5v5h-5zM672 225h5v5h-5zM688 225h5v5h-5zM709 225h11v5h-11zM805 225h5v5h-5zM821 225h5v5h-5zM863 225h5v5h-5zM884 225h11v5h-11zM927 225h5v5h-5zM269 230h5v5h-5zM306 230h5v5h-5zM332 230h6v5h-6zM364 230h6v5h-6zM428 230h5v5h-5zM449 230h5v5h-5zM460 230h10v5h-10zM555 230h6v5h-6zM571 230h11v5h-11zM598 230h5v5h-5zM614 230h5v5h-5zM624 230h6v5h-6zM646 230h5v5h-5zM661 230h6v5h-6zM672 230h5v5h-5zM688 230h5v5h-5zM709 230h11v5h-11zM736 230h10v5h-10zM853 230h5v5h-5zM216 235h5v6h-5zM290 235h5v6h-5zM306 235h5v6h-5zM322 235h5v6h-5zM332 235h6v6h-6zM502 235h6v6h-6zM523 235h6v6h-6zM555 235h6v6h-6zM619 235h11v6h-11zM709 235h11v6h-11zM784 235h5v6h-5zM858 235h5v6h-5zM895 235h5v6h-5zM306 241h5v5h-5zM322 241h5v5h-5zM332 241h6v5h-6zM348 241h6v5h-6zM401 241h6v5h-6zM417 241h11v5h-11zM465 241h5v5h-5zM534 241h11v5h-11zM566 241h5v5h-5zM587 241h5v5h-5zM614 241h16v5h-16zM640 241h6v5h-6zM651 241h10v5h-10zM672 241h5v5h-5zM736 241h10v5h-10zM768 241h10v5h-10zM794 241h5v5h-5zM810 241h5v5h-5zM842 241h5v5h-5zM853 241h5v5h-5zM884 241h11v5h-11zM51 246h21v5h-21zM157 246h11v5h-11zM200 246h10v5h-10zM216 246h16v5h-16zM242 246h6v5h-6zM258 246h5v5h-5zM269 246h10v5h-10zM295 246h6v5h-6zM332 246h6v5h-6zM401 246h16v5h-16zM444 246h5v5h-5zM614 246h5v5h-5zM635 246h5v5h-5zM646 246h10v5h-10zM736 246h5v5h-5zM778 246h6v5h-6zM794 246h5v5h-5zM890 246h58v5h-58zM72 251h22v6h-22zM104 251h6v6h-6zM115 251h5v6h-5zM125 251h11v6h-11zM141 251h6v6h-6zM157 251h6v6h-6zM168 251h5v6h-5zM200 251h5v6h-5zM210 251h6v6h-6zM253 251h5v6h-5zM364 251h6v6h-6zM465 251h5v6h-5zM486 251h6v6h-6zM545 251h5v6h-5zM555 251h6v6h-6zM587 251h5v6h-5zM608 251h6v6h-6zM646 251h10v6h-10zM688 251h5v6h-5zM699 251h10v6h-10zM715 251h5v6h-5zM725 251h5v6h-5zM736 251h5v6h-5zM874 251h5v6h-5zM884 251h6v6h-6zM932 251h5v6h-5zM232 257h10v5h-10zM253 257h5v5h-5zM322 257h5v5h-5zM343 257h5v5h-5zM486 257h6v5h-6zM587 257h11v5h-11zM635 257h5v5h-5zM874 257h5v5h-5zM884 257h6v5h-6zM232 262h5v5h-5zM253 262h5v5h-5zM279 262h6v5h-6zM290 262h5v5h-5zM306 262h5v5h-5zM412 262h16v5h-16zM486 262h6v5h-6zM523 262h6v5h-6zM608 262h6v5h-6zM624 262h6v5h-6zM656 262h5v5h-5zM672 262h5v5h-5zM693 262h6v5h-6zM715 262h5v5h-5zM746 262h6v5h-6zM778 262h6v5h-6zM826 262h5v5h-5zM290 267h5v6h-5zM370 267h5v6h-5zM497 267h5v6h-5zM529 267h5v6h-5zM550 267h5v6h-5zM566 267h5v6h-5zM646 267h5v6h-5zM715 267h5v6h-5zM789 267h5v6h-5zM805 267h5v6h-5zM858 267h5v6h-5zM210 273h11v5h-11zM232 273h5v5h-5zM274 273h11v5h-11zM290 273h5v5h-5zM401 273h6v5h-6zM465 273h5v5h-5zM539 273h6v5h-6zM566 273h5v5h-5zM587 273h5v5h-5zM630 273h5v5h-5zM661 273h6v5h-6zM715 273h5v5h-5zM736 273h5v5h-5zM768 273h5v5h-5zM784 273h5v5h-5zM831 273h6v5h-6zM853 273h5v5h-5zM863 273h5v5h-5zM874 273h10v5h-10zM200 278h10v5h-10zM232 278h5v5h-5zM269 278h5v5h-5zM343 278h5v5h-5zM423 278h5v5h-5zM539 278h6v5h-6zM550 278h5v5h-5zM577 278h5v5h-5zM592 278h6v5h-6zM624 278h6v5h-6zM651 278h5v5h-5zM736 278h5v5h-5zM746 278h6v5h-6zM773 278h5v5h-5zM821 278h10v5h-10zM884 278h6v5h-6zM210 283h6v6h-6zM242 283h6v6h-6zM253 283h5v6h-5zM269 283h5v6h-5zM285 283h16v6h-16zM306 283h5v6h-5zM322 283h5v6h-5zM375 283h5v6h-5zM502 283h6v6h-6zM550 283h5v6h-5zM709 283h11v6h-11zM725 283h5v6h-5zM736 283h10v6h-10zM778 283h6v6h-6zM789 283h5v6h-5zM799 283h11v6h-11zM837 283h5v6h-5zM884 283h6v6h-6zM163 289h10v5h-10zM258 289h5v5h-5zM269 289h5v5h-5zM290 289h5v5h-5zM306 289h5v5h-5zM375 289h5v5h-5zM502 289h6v5h-6zM635 289h5v5h-5zM661 289h6v5h-6zM837 289h5v5h-5zM853 289h5v5h-5zM890 289h10v5h-10zM906 289h42v5h-42zM306 294h5v5h-5zM465 294h5v5h-5zM523 294h11v5h-11zM587 294h5v5h-5zM672 294h5v5h-5zM693 294h11v5h-11zM709 294h11v5h-11zM736 294h5v5h-5zM784 294h5v5h-5zM874 294h5v5h-5zM210 299h6v5h-6zM311 299h5v5h-5zM322 299h10v5h-10zM401 299h6v5h-6zM502 299h6v5h-6zM699 299h5v5h-5zM715 299h21v5h-21zM773 299h11v5h-11zM794 299h11v5h-11zM868 299h16v5h-16zM258 304h5v6h-5zM311 304h5v6h-5zM322 304h5v6h-5zM502 304h6v6h-6zM656 304h5v6h-5zM699 304h5v6h-5zM757 304h5v6h-5zM831 304h6v6h-6zM327 310h5v5h-5zM566 310h5v5h-5zM693 310h6v5h-6zM730 310h6v5h-6zM773 310h5v5h-5zM523 315h6v5h-6zM704 315h5v5h-5zM715 315h10v5h-10zM821 315h10v5h-10zM311 320h5v6h-5zM587 320h5v6h-5zM821 320h10v6h-10zM226 326h6v5h-6zM327 326h5v5h-5zM640 326h21v5h-21zM730 326h6v5h-6zM784 326h5v5h-5zM826 326h5v5h-5zM858 326h5v5h-5zM874 326h5v5h-5z"/>
<path fill="#25848e" d="M51 182h159v6h-159zM364 182h6v6h-6zM385 182h6v6h-6zM433 182h16v6h-16zM492 182h5v6h-5zM566 182h5v6h-5zM614 182h10v6h-10zM630 182h5v6h-5zM683 182h5v6h-5zM815 182h6v6h-6zM847 182h6v6h-6zM900 182h32v6h-32zM937 182h6v6h-6zM375 188h5v5h-5zM401 188h6v5h-6zM465 188h11v5h-11zM492 188h10v5h-10zM518 188h5v5h-5zM582 188h16v5h-16zM709 188h6v5h-6zM805 188h5v5h-5zM890 188h5v5h-5zM51 193h21v5h-21zM147 193h5v5h-5zM157 193h43v5h-43zM205 193h5v5h-5zM258 193h5v5h-5zM332 193h6v5h-6zM385 193h6v5h-6zM417 193h6v5h-6zM523 193h6v5h-6zM550 193h5v5h-5zM571 193h11v5h-11zM614 193h5v5h-5zM810 193h5v5h-5zM380 198h5v6h-5zM497 198h5v6h-5zM640 198h6v6h-6zM768 198h5v6h-5zM778 198h6v6h-6zM890 198h5v6h-5zM72 204h22v5h-22zM104 204h6v5h-6zM125 204h11v5h-11zM141 204h6v5h-6zM205 204h5v5h-5zM221 204h5v5h-5zM237 204h5v5h-5zM454 204h6v5h-6zM508 204h5v5h-5zM550 204h5v5h-5zM587 204h5v5h-5zM630 204h16v5h-16zM651 204h5v5h-5zM672 204h5v5h-5zM805 204h5v5h-5zM51 209h21v5h-21zM94 209h5v5h-5zM110 209h5v5h-5zM157 209h43v5h-43zM237 209h5v5h-5zM375 209h5v5h-5zM428 209h5v5h-5zM444 209h5v5h-5zM454 209h6v5h-6zM571 209h11v5h-11zM598 209h5v5h-5zM614 209h5v5h-5zM630 209h5v5h-5zM677 209h6v5h-6zM799 209h6v5h-6zM847 209h6v5h-6zM51 214h21v6h-21zM94 214h5v6h-5zM110 214h5v6h-5zM147 214h5v6h-5zM157 214h43v6h-43zM237 214h5v6h-5zM295 214h6v6h-6zM348 214h6v6h-6zM364 214h11v6h-11zM439 214h5v6h-5zM454 214h6v6h-6zM667 214h16v6h-16zM688 214h5v6h-5zM794 214h5v6h-5zM895 214h53v6h-53zM216 220h5v5h-5zM285 220h5v5h-5zM518 220h16v5h-16zM566 220h5v5h-5zM661 220h6v5h-6zM699 220h5v5h-5zM837 220h5v5h-5zM99 225h5v5h-5zM115 225h5v5h-5zM136 225h5v5h-5zM295 225h6v5h-6zM412 225h5v5h-5zM492 225h5v5h-5zM603 225h5v5h-5zM624 225h6v5h-6zM683 225h5v5h-5zM842 225h16v5h-16zM895 225h32v5h-32zM932 225h16v5h-16zM168 230h5v5h-5zM200 230h10v5h-10zM221 230h5v5h-5zM290 230h5v5h-5zM343 230h5v5h-5zM391 230h5v5h-5zM433 230h16v5h-16zM486 230h6v5h-6zM513 230h5v5h-5zM529 230h5v5h-5zM561 230h10v5h-10zM582 230h5v5h-5zM630 230h5v5h-5zM762 230h6v5h-6zM794 230h11v5h-11zM863 230h11v5h-11zM890 230h5v5h-5zM157 235h11v6h-11zM200 235h10v6h-10zM343 235h5v6h-5zM385 235h6v6h-6zM412 235h11v6h-11zM449 235h5v6h-5zM545 235h5v6h-5zM672 235h5v6h-5zM757 235h5v6h-5zM768 235h5v6h-5zM778 235h6v6h-6zM837 235h5v6h-5zM853 235h5v6h-5zM900 235h11v6h-11zM937 235h11v6h-11zM51 241h43v5h-43zM99 241h64v5h-64zM168 241h5v5h-5zM179 241h31v5h-31zM311 241h11v5h-11zM470 241h16v5h-16zM492 241h5v5h-5zM550 241h5v5h-5zM630 241h5v5h-5zM661 241h6v5h-6zM693 241h6v5h-6zM709 241h6v5h-6zM725 241h5v5h-5zM863 241h5v5h-5zM895 241h5v5h-5zM906 241h42v5h-42zM168 246h32v5h-32zM465 246h5v5h-5zM497 246h5v5h-5zM523 246h6v5h-6zM545 246h5v5h-5zM555 246h11v5h-11zM571 246h11v5h-11zM587 246h5v5h-5zM630 246h5v5h-5zM640 246h6v5h-6zM693 246h6v5h-6zM741 246h11v5h-11zM762 246h6v5h-6zM799 246h6v5h-6zM810 246h5v5h-5zM847 246h6v5h-6zM51 251h21v6h-21zM221 251h5v6h-5zM290 251h5v6h-5zM306 251h5v6h-5zM322 251h5v6h-5zM370 251h5v6h-5zM380 251h11v6h-11zM401 251h6v6h-6zM417 251h11v6h-11zM508 251h5v6h-5zM523 251h6v6h-6zM566 251h5v6h-5zM592 251h16v6h-16zM619 251h5v6h-5zM709 251h6v6h-6zM730 251h6v6h-6zM757 251h11v6h-11zM773 251h5v6h-5zM890 251h16v6h-16zM921 251h11v6h-11zM937 251h11v6h-11zM152 257h21v5h-21zM226 257h6v5h-6zM258 257h5v5h-5zM269 257h5v5h-5zM306 257h10v5h-10zM534 257h5v5h-5zM566 257h5v5h-5zM577 257h10v5h-10zM646 257h5v5h-5zM672 257h5v5h-5zM693 257h6v5h-6zM757 257h5v5h-5zM778 257h6v5h-6zM789 257h5v5h-5zM799 257h11v5h-11zM858 257h5v5h-5zM900 257h21v5h-21zM205 262h11v5h-11zM269 262h5v5h-5zM295 262h6v5h-6zM332 262h6v5h-6zM401 262h11v5h-11zM428 262h21v5h-21zM470 262h16v5h-16zM508 262h5v5h-5zM518 262h5v5h-5zM529 262h10v5h-10zM550 262h5v5h-5zM614 262h10v5h-10zM651 262h5v5h-5zM661 262h6v5h-6zM683 262h5v5h-5zM699 262h5v5h-5zM789 262h5v5h-5zM799 262h6v5h-6zM853 262h5v5h-5zM210 267h11v6h-11zM232 267h5v6h-5zM253 267h5v6h-5zM306 267h5v6h-5zM364 267h6v6h-6zM449 267h5v6h-5zM486 267h6v6h-6zM523 267h6v6h-6zM699 267h5v6h-5zM757 267h5v6h-5zM773 267h5v6h-5zM831 267h11v6h-11zM868 267h6v6h-6zM884 267h6v6h-6zM237 273h5v5h-5zM253 273h5v5h-5zM295 273h6v5h-6zM306 273h5v5h-5zM322 273h10v5h-10zM460 273h5v5h-5zM555 273h6v5h-6zM693 273h6v5h-6zM746 273h6v5h-6zM757 273h11v5h-11zM789 273h10v5h-10zM51 278h21v5h-21zM104 278h6v5h-6zM115 278h5v5h-5zM125 278h11v5h-11zM141 278h6v5h-6zM157 278h6v5h-6zM168 278h5v5h-5zM221 278h5v5h-5zM253 278h5v5h-5zM279 278h6v5h-6zM290 278h5v5h-5zM348 278h6v5h-6zM428 278h11v5h-11zM444 278h5v5h-5zM465 278h5v5h-5zM582 278h5v5h-5zM598 278h5v5h-5zM661 278h6v5h-6zM672 278h5v5h-5zM741 278h5v5h-5zM789 278h5v5h-5zM863 278h5v5h-5zM890 278h10v5h-10zM205 283h5v6h-5zM274 283h5v6h-5zM348 283h6v6h-6zM417 283h6v6h-6zM444 283h5v6h-5zM539 283h6v6h-6zM566 283h5v6h-5zM592 283h22v6h-22zM646 283h5v6h-5zM656 283h11v6h-11zM672 283h5v6h-5zM746 283h6v6h-6zM768 283h10v6h-10zM810 283h5v6h-5zM853 283h10v6h-10zM868 283h11v6h-11zM890 283h10v6h-10zM72 289h22v5h-22zM99 289h11v5h-11zM115 289h32v5h-32zM152 289h11v5h-11zM173 289h6v5h-6zM210 289h6v5h-6zM253 289h5v5h-5zM274 289h5v5h-5zM311 289h5v5h-5zM439 289h10v5h-10zM529 289h5v5h-5zM566 289h5v5h-5zM640 289h11v5h-11zM730 289h11v5h-11zM789 289h5v5h-5zM799 289h11v5h-11zM831 289h6v5h-6zM842 289h5v5h-5zM290 294h5v5h-5zM370 294h5v5h-5zM486 294h6v5h-6zM518 294h5v5h-5zM534 294h11v5h-11zM550 294h5v5h-5zM566 294h5v5h-5zM661 294h6v5h-6zM683 294h5v5h-5zM853 294h10v5h-10zM868 294h6v5h-6zM226 299h11v5h-11zM242 299h6v5h-6zM269 299h5v5h-5zM279 299h11v5h-11zM295 299h6v5h-6zM619 299h5v5h-5zM630 299h5v5h-5zM693 299h6v5h-6zM736 299h10v5h-10zM768 299h5v5h-5zM784 299h5v5h-5zM826 299h11v5h-11zM858 299h5v5h-5zM884 299h6v5h-6zM279 304h6v6h-6zM327 304h5v6h-5zM534 304h5v6h-5zM566 304h5v6h-5zM587 304h5v6h-5zM646 304h5v6h-5zM688 304h5v6h-5zM730 304h6v6h-6zM741 304h11v6h-11zM784 304h5v6h-5zM837 304h5v6h-5zM853 304h5v6h-5zM884 304h6v6h-6zM232 310h5v5h-5zM242 310h6v5h-6zM263 310h6v5h-6zM274 310h11v5h-11zM322 310h5v5h-5zM502 310h6v5h-6zM635 310h5v5h-5zM646 310h10v5h-10zM699 310h5v5h-5zM725 310h5v5h-5zM784 310h5v5h-5zM853 310h5v5h-5zM874 310h10v5h-10zM210 315h6v5h-6zM285 315h5v5h-5zM327 315h5v5h-5zM502 315h6v5h-6zM566 315h5v5h-5zM656 315h5v5h-5zM709 315h6v5h-6zM741 315h11v5h-11zM784 315h5v5h-5zM879 315h5v5h-5zM322 320h10v6h-10zM370 320h5v6h-5zM566 320h5v6h-5zM592 320h6v6h-6zM715 320h5v6h-5zM768 320h10v6h-10zM784 320h5v6h-5zM831 320h11v6h-11zM858 320h5v6h-5zM295 326h6v5h-6zM311 326h5v5h-5zM401 326h6v5h-6zM470 326h6v5h-6zM486 326h6v5h-6zM523 326h6v5h-6zM534 326h11v5h-11zM566 326h5v5h-5zM624 326h11v5h-11zM693 326h6v5h-6zM720 326h5v5h-5zM736 326h5v5h-5zM757 326h11v5h-11zM789 326h5v5h-5zM821 326h5v5h-5z"/>
<path fill="#287d8e" d="M704 177h5v5h-5zM396 182h5v6h-5zM497 182h5v6h-5zM550 182h5v6h-5zM640 182h6v6h-6zM672 182h11v6h-11zM799 182h11v6h-11zM821 182h5v6h-5zM837 182h10v6h-10zM51 188h21v5h-21zM157 188h53v5h-53zM348 188h6v5h-6zM508 188h5v5h-5zM630 188h5v5h-5zM895 188h5v5h-5zM921 188h11v5h-11zM937 188h11v5h-11zM301 193h5v5h-5zM375 193h5v5h-5zM476 193h5v5h-5zM492 193h5v5h-5zM545 193h5v5h-5zM587 193h5v5h-5zM624 193h11v5h-11zM677 193h11v5h-11zM799 193h11v5h-11zM842 193h5v5h-5zM51 198h21v6h-21zM200 198h10v6h-10zM221 198h5v6h-5zM332 198h6v6h-6zM343 198h5v6h-5zM465 198h11v6h-11zM518 198h5v6h-5zM571 198h11v6h-11zM587 198h5v6h-5zM672 198h5v6h-5zM773 198h5v6h-5zM799 198h6v6h-6zM810 198h5v6h-5zM847 198h6v6h-6zM895 198h5v6h-5zM921 198h27v6h-27zM51 204h21v5h-21zM99 204h5v5h-5zM115 204h5v5h-5zM136 204h5v5h-5zM216 204h5v5h-5zM290 204h5v5h-5zM338 204h10v5h-10zM380 204h5v5h-5zM412 204h5v5h-5zM465 204h5v5h-5zM571 204h11v5h-11zM752 204h5v5h-5zM799 204h6v5h-6zM895 204h5v5h-5zM921 204h16v5h-16zM290 209h5v5h-5zM370 209h5v5h-5zM396 209h5v5h-5zM433 209h11v5h-11zM481 209h5v5h-5zM555 209h11v5h-11zM592 209h6v5h-6zM619 209h5v5h-5zM810 209h11v5h-11zM290 214h5v6h-5zM332 214h6v6h-6zM380 214h5v6h-5zM423 214h5v6h-5zM529 214h5v6h-5zM545 214h5v6h-5zM577 214h5v6h-5zM635 214h5v6h-5zM752 214h5v6h-5zM799 214h16v6h-16zM847 214h6v6h-6zM51 220h43v5h-43zM99 220h11v5h-11zM348 220h6v5h-6zM364 220h6v5h-6zM401 220h6v5h-6zM412 220h11v5h-11zM497 220h5v5h-5zM577 220h5v5h-5zM683 220h5v5h-5zM693 220h6v5h-6zM757 220h5v5h-5zM799 220h6v5h-6zM842 220h5v5h-5zM900 220h11v5h-11zM921 220h27v5h-27zM51 225h21v5h-21zM94 225h5v5h-5zM110 225h5v5h-5zM147 225h21v5h-21zM173 225h27v5h-27zM370 225h10v5h-10zM385 225h6v5h-6zM417 225h6v5h-6zM439 225h21v5h-21zM497 225h5v5h-5zM508 225h5v5h-5zM518 225h5v5h-5zM545 225h10v5h-10zM571 225h11v5h-11zM608 225h6v5h-6zM619 225h5v5h-5zM630 225h5v5h-5zM640 225h6v5h-6zM667 225h5v5h-5zM752 225h5v5h-5zM51 230h43v5h-43zM104 230h6v5h-6zM115 230h5v5h-5zM125 230h11v5h-11zM141 230h6v5h-6zM157 230h6v5h-6zM348 230h6v5h-6zM359 230h5v5h-5zM370 230h5v5h-5zM401 230h11v5h-11zM454 230h6v5h-6zM492 230h5v5h-5zM545 230h5v5h-5zM619 230h5v5h-5zM752 230h5v5h-5zM895 230h5v5h-5zM921 230h27v5h-27zM51 235h21v6h-21zM99 235h11v6h-11zM115 235h42v6h-42zM168 235h16v6h-16zM375 235h10v6h-10zM401 235h11v6h-11zM423 235h5v6h-5zM439 235h10v6h-10zM486 235h6v6h-6zM518 235h5v6h-5zM571 235h6v6h-6zM598 235h21v6h-21zM667 235h5v6h-5zM688 235h11v6h-11zM762 235h6v6h-6zM911 235h26v6h-26zM163 241h5v5h-5zM173 241h6v5h-6zM290 241h5v5h-5zM354 241h5v5h-5zM412 241h5v5h-5zM428 241h11v5h-11zM497 241h5v5h-5zM757 241h11v5h-11zM900 241h6v5h-6zM285 246h5v5h-5zM338 246h21v5h-21zM486 246h6v5h-6zM508 246h15v5h-15zM582 246h5v5h-5zM667 246h16v5h-16zM688 246h5v5h-5zM709 246h6v5h-6zM94 251h10v6h-10zM110 251h5v6h-5zM120 251h5v6h-5zM136 251h5v6h-5zM147 251h10v6h-10zM258 251h5v6h-5zM269 251h5v6h-5zM279 251h6v6h-6zM301 251h5v6h-5zM343 251h5v6h-5zM375 251h5v6h-5zM412 251h5v6h-5zM428 251h26v6h-26zM460 251h5v6h-5zM470 251h6v6h-6zM614 251h5v6h-5zM624 251h6v6h-6zM853 251h5v6h-5zM906 251h15v6h-15zM99 257h11v5h-11zM115 257h32v5h-32zM173 257h6v5h-6zM194 257h6v5h-6zM221 257h5v5h-5zM401 257h6v5h-6zM508 257h5v5h-5zM523 257h11v5h-11zM539 257h6v5h-6zM571 257h6v5h-6zM598 257h5v5h-5zM624 257h6v5h-6zM699 257h5v5h-5zM720 257h10v5h-10zM762 257h11v5h-11zM842 257h5v5h-5zM853 257h5v5h-5zM868 257h6v5h-6zM890 257h10v5h-10zM921 257h27v5h-27zM168 262h5v5h-5zM200 262h5v5h-5zM216 262h5v5h-5zM226 262h6v5h-6zM237 262h5v5h-5zM258 262h5v5h-5zM370 262h5v5h-5zM449 262h5v5h-5zM460 262h5v5h-5zM492 262h10v5h-10zM539 262h6v5h-6zM688 262h5v5h-5zM752 262h5v5h-5zM805 262h5v5h-5zM831 262h6v5h-6zM884 262h6v5h-6zM932 262h5v5h-5zM221 267h11v6h-11zM258 267h5v6h-5zM380 267h5v6h-5zM412 267h5v6h-5zM444 267h5v6h-5zM465 267h5v6h-5zM508 267h5v6h-5zM555 267h6v6h-6zM592 267h6v6h-6zM640 267h6v6h-6zM651 267h5v6h-5zM672 267h5v6h-5zM799 267h6v6h-6zM853 267h5v6h-5zM168 273h5v5h-5zM205 273h5v5h-5zM221 273h11v5h-11zM258 273h5v5h-5zM375 273h5v5h-5zM407 273h10v5h-10zM486 273h6v5h-6zM518 273h5v5h-5zM624 273h6v5h-6zM672 273h5v5h-5zM709 273h6v5h-6zM773 273h11v5h-11zM837 273h5v5h-5zM110 278h5v5h-5zM120 278h5v5h-5zM147 278h10v5h-10zM163 278h5v5h-5zM173 278h27v5h-27zM258 278h5v5h-5zM364 278h6v5h-6zM375 278h5v5h-5zM439 278h5v5h-5zM460 278h5v5h-5zM470 278h6v5h-6zM492 278h5v5h-5zM603 278h21v5h-21zM842 278h5v5h-5zM900 278h48v5h-48zM200 283h5v6h-5zM364 283h6v6h-6zM380 283h5v6h-5zM401 283h6v6h-6zM412 283h5v6h-5zM423 283h21v6h-21zM449 283h5v6h-5zM486 283h6v6h-6zM529 283h10v6h-10zM614 283h16v6h-16zM640 283h6v6h-6zM704 283h5v6h-5zM794 283h5v6h-5zM815 283h6v6h-6zM842 283h5v6h-5zM900 283h11v6h-11zM921 283h16v6h-16zM94 289h5v5h-5zM110 289h5v5h-5zM179 289h21v5h-21zM322 289h5v5h-5zM380 289h5v5h-5zM401 289h6v5h-6zM417 289h22v5h-22zM486 289h6v5h-6zM523 289h6v5h-6zM571 289h6v5h-6zM677 289h6v5h-6zM810 289h11v5h-11zM874 289h5v5h-5zM205 294h5v5h-5zM375 294h5v5h-5zM412 294h5v5h-5zM598 294h26v5h-26zM630 294h5v5h-5zM646 294h5v5h-5zM656 294h5v5h-5zM688 294h5v5h-5zM752 294h10v5h-10zM768 294h5v5h-5zM789 294h5v5h-5zM842 294h5v5h-5zM884 294h6v5h-6zM205 299h5v5h-5zM216 299h10v5h-10zM237 299h5v5h-5zM253 299h5v5h-5zM274 299h5v5h-5zM306 299h5v5h-5zM332 299h6v5h-6zM348 299h6v5h-6zM486 299h6v5h-6zM566 299h5v5h-5zM624 299h6v5h-6zM646 299h5v5h-5zM656 299h11v5h-11zM672 299h5v5h-5zM704 299h5v5h-5zM746 299h6v5h-6zM757 299h11v5h-11zM789 299h5v5h-5zM853 299h5v5h-5zM290 304h11v6h-11zM401 304h6v6h-6zM523 304h6v6h-6zM539 304h6v6h-6zM624 304h6v6h-6zM661 304h6v6h-6zM709 304h6v6h-6zM762 304h6v6h-6zM210 310h6v5h-6zM226 310h6v5h-6zM253 310h5v5h-5zM306 310h5v5h-5zM343 310h5v5h-5zM534 310h11v5h-11zM661 310h6v5h-6zM688 310h5v5h-5zM715 310h5v5h-5zM746 310h6v5h-6zM821 310h5v5h-5zM868 310h6v5h-6zM200 315h5v5h-5zM263 315h6v5h-6zM295 315h6v5h-6zM401 315h6v5h-6zM529 315h16v5h-16zM587 315h5v5h-5zM646 315h5v5h-5zM661 315h6v5h-6zM725 315h16v5h-16zM831 315h6v5h-6zM858 315h5v5h-5zM874 315h5v5h-5zM210 320h6v6h-6zM242 320h6v6h-6zM263 320h6v6h-6zM306 320h5v6h-5zM364 320h6v6h-6zM635 320h5v6h-5zM656 320h5v6h-5zM704 320h5v6h-5zM720 320h16v6h-16zM778 320h6v6h-6zM853 320h5v6h-5zM868 320h6v6h-6zM879 320h5v6h-5zM221 326h5v5h-5zM253 326h5v5h-5zM269 326h16v5h-16zM316 326h11v5h-11zM529 326h5v5h-5zM592 326h6v5h-6zM661 326h6v5h-6zM672 326h5v5h-5zM704 326h5v5h-5zM715 326h5v5h-5zM725 326h5v5h-5zM778 326h6v5h-6zM799 326h6v5h-6zM831 326h6v5h-6zM884 326h6v5h-6z"/>
<path fill="#2b758e" d="M348 182h6v6h-6zM370 182h5v6h-5zM391 182h5v6h-5zM449 182h5v6h-5zM513 182h10v6h-10zM571 182h6v6h-6zM72 188h85v5h-85zM216 188h5v5h-5zM380 188h11v5h-11zM439 188h5v5h-5zM449 188h11v5h-11zM476 188h5v5h-5zM513 188h5v5h-5zM598 188h21v5h-21zM815 188h6v5h-6zM900 188h21v5h-21zM932 188h5v5h-5zM364 193h6v5h-6zM380 193h5v5h-5zM396 193h5v5h-5zM428 193h5v5h-5zM465 193h5v5h-5zM582 193h5v5h-5zM619 193h5v5h-5zM752 193h5v5h-5zM94 198h106v6h-106zM216 198h5v6h-5zM348 198h6v6h-6zM385 198h6v6h-6zM396 198h5v6h-5zM454 198h6v6h-6zM476 198h5v6h-5zM508 198h5v6h-5zM555 198h11v6h-11zM598 198h26v6h-26zM630 198h5v6h-5zM805 198h5v6h-5zM900 198h21v6h-21zM94 204h5v5h-5zM110 204h5v5h-5zM120 204h5v5h-5zM147 204h26v5h-26zM200 204h5v5h-5zM301 204h5v5h-5zM354 204h10v5h-10zM417 204h6v5h-6zM428 204h5v5h-5zM555 204h11v5h-11zM598 204h26v5h-26zM688 204h5v5h-5zM900 204h21v5h-21zM937 204h11v5h-11zM301 209h5v5h-5zM348 209h6v5h-6zM359 209h5v5h-5zM476 209h5v5h-5zM518 209h5v5h-5zM667 209h5v5h-5zM752 209h5v5h-5zM794 209h5v5h-5zM221 214h5v6h-5zM338 214h5v6h-5zM433 214h6v6h-6zM476 214h5v6h-5zM561 214h5v6h-5zM571 214h6v6h-6zM598 214h5v6h-5zM815 214h6v6h-6zM94 220h5v5h-5zM110 220h5v5h-5zM147 220h53v5h-53zM332 220h6v5h-6zM407 220h5v5h-5zM423 220h5v5h-5zM460 220h5v5h-5zM470 220h6v5h-6zM513 220h5v5h-5zM592 220h6v5h-6zM619 220h16v5h-16zM677 220h6v5h-6zM805 220h5v5h-5zM911 220h10v5h-10zM200 225h10v5h-10zM364 225h6v5h-6zM380 225h5v5h-5zM396 225h5v5h-5zM423 225h5v5h-5zM614 225h5v5h-5zM810 225h5v5h-5zM94 230h10v5h-10zM110 230h5v5h-5zM120 230h5v5h-5zM147 230h10v5h-10zM163 230h5v5h-5zM173 230h27v5h-27zM216 230h5v5h-5zM301 230h5v5h-5zM338 230h5v5h-5zM354 230h5v5h-5zM470 230h16v5h-16zM518 230h11v5h-11zM667 230h5v5h-5zM683 230h5v5h-5zM805 230h5v5h-5zM900 230h21v5h-21zM184 235h16v6h-16zM237 235h5v6h-5zM364 235h6v6h-6zM396 235h5v6h-5zM428 235h11v6h-11zM460 235h10v6h-10zM481 235h5v6h-5zM529 235h5v6h-5zM577 235h5v6h-5zM683 235h5v6h-5zM810 235h5v6h-5zM237 241h5v5h-5zM248 241h5v5h-5zM338 241h5v5h-5zM359 241h11v5h-11zM385 241h6v5h-6zM439 241h10v5h-10zM460 241h5v5h-5zM571 241h16v5h-16zM683 241h5v5h-5zM815 241h6v5h-6zM847 241h6v5h-6zM237 246h5v5h-5zM290 246h5v5h-5zM385 246h6v5h-6zM396 246h5v5h-5zM417 246h6v5h-6zM470 246h6v5h-6zM492 246h5v5h-5zM619 246h5v5h-5zM815 246h6v5h-6zM163 251h5v6h-5zM173 251h27v6h-27zM216 251h5v6h-5zM274 251h5v6h-5zM407 251h5v6h-5zM476 251h10v6h-10zM497 251h5v6h-5zM752 251h5v6h-5zM868 251h6v6h-6zM94 257h5v5h-5zM110 257h5v5h-5zM179 257h15v5h-15zM370 257h5v5h-5zM385 257h6v5h-6zM412 257h11v5h-11zM444 257h5v5h-5zM465 257h5v5h-5zM492 257h5v5h-5zM603 257h11v5h-11zM656 257h11v5h-11zM688 257h5v5h-5zM72 262h22v5h-22zM104 262h6v5h-6zM115 262h5v5h-5zM125 262h11v5h-11zM141 262h6v5h-6zM157 262h6v5h-6zM221 262h5v5h-5zM301 262h5v5h-5zM375 262h5v5h-5zM630 262h5v5h-5zM794 262h5v5h-5zM837 262h10v5h-10zM200 267h10v6h-10zM401 267h6v6h-6zM417 267h6v6h-6zM439 267h5v6h-5zM492 267h5v6h-5zM518 267h5v6h-5zM598 267h5v6h-5zM842 267h5v6h-5zM890 267h5v6h-5zM72 273h22v5h-22zM141 273h6v5h-6zM157 273h6v5h-6zM200 273h5v5h-5zM364 273h6v5h-6zM417 273h6v5h-6zM444 273h10v5h-10zM508 273h5v5h-5zM545 273h5v5h-5zM571 273h6v5h-6zM667 273h5v5h-5zM688 273h5v5h-5zM799 273h6v5h-6zM884 273h6v5h-6zM932 273h5v5h-5zM332 278h6v5h-6zM354 278h5v5h-5zM370 278h5v5h-5zM385 278h11v5h-11zM476 278h10v5h-10zM545 278h5v5h-5zM794 278h5v5h-5zM810 278h11v5h-11zM51 283h43v6h-43zM99 283h11v6h-11zM115 283h32v6h-32zM157 283h16v6h-16zM226 283h11v6h-11zM332 283h11v6h-11zM370 283h5v6h-5zM407 283h5v6h-5zM460 283h10v6h-10zM523 283h6v6h-6zM555 283h6v6h-6zM630 283h5v6h-5zM651 283h5v6h-5zM757 283h11v6h-11zM911 283h10v6h-10zM937 283h11v6h-11zM226 289h11v5h-11zM316 289h6v5h-6zM332 289h6v5h-6zM343 289h5v5h-5zM385 289h6v5h-6zM412 289h5v5h-5zM561 289h5v5h-5zM598 289h16v5h-16zM651 289h5v5h-5zM683 289h5v5h-5zM699 289h5v5h-5zM725 289h5v5h-5zM757 289h5v5h-5zM768 289h5v5h-5zM778 289h6v5h-6zM794 289h5v5h-5zM72 294h22v5h-22zM104 294h6v5h-6zM115 294h5v5h-5zM125 294h11v5h-11zM141 294h6v5h-6zM157 294h6v5h-6zM168 294h5v5h-5zM248 294h5v5h-5zM301 294h5v5h-5zM343 294h5v5h-5zM385 294h6v5h-6zM407 294h5v5h-5zM417 294h6v5h-6zM460 294h5v5h-5zM508 294h5v5h-5zM555 294h6v5h-6zM592 294h6v5h-6zM624 294h6v5h-6zM762 294h6v5h-6zM778 294h6v5h-6zM799 294h6v5h-6zM890 294h10v5h-10zM921 294h27v5h-27zM200 299h5v5h-5zM523 299h6v5h-6zM534 299h11v5h-11zM587 299h32v5h-32zM667 299h5v5h-5zM805 299h5v5h-5zM821 299h5v5h-5zM837 299h5v5h-5zM863 299h5v5h-5zM890 299h5v5h-5zM911 299h10v5h-10zM927 299h16v5h-16zM237 304h5v6h-5zM248 304h5v6h-5zM343 304h11v6h-11zM444 304h5v6h-5zM508 304h5v6h-5zM592 304h6v6h-6zM635 304h5v6h-5zM683 304h5v6h-5zM736 304h5v6h-5zM890 304h5v6h-5zM269 310h5v5h-5zM285 310h5v5h-5zM401 310h6v5h-6zM523 310h11v5h-11zM550 310h5v5h-5zM624 310h6v5h-6zM704 310h5v5h-5zM736 310h10v5h-10zM757 310h5v5h-5zM778 310h6v5h-6zM826 310h11v5h-11zM168 315h5v5h-5zM205 315h5v5h-5zM232 315h5v5h-5zM253 315h5v5h-5zM306 315h21v5h-21zM343 315h5v5h-5zM407 315h10v5h-10zM518 315h5v5h-5zM550 315h5v5h-5zM624 315h6v5h-6zM672 315h5v5h-5zM768 315h5v5h-5zM799 315h6v5h-6zM837 315h5v5h-5zM853 315h5v5h-5zM868 315h6v5h-6zM884 315h6v5h-6zM932 315h5v5h-5zM168 320h5v6h-5zM253 320h5v6h-5zM401 320h6v6h-6zM534 320h5v6h-5zM550 320h5v6h-5zM598 320h5v6h-5zM624 320h6v6h-6zM646 320h5v6h-5zM661 320h6v6h-6zM757 320h5v6h-5zM799 320h6v6h-6zM290 326h5v5h-5zM306 326h5v5h-5zM407 326h5v5h-5zM476 326h10v5h-10zM518 326h5v5h-5zM550 326h5v5h-5zM683 326h10v5h-10zM699 326h5v5h-5zM794 326h5v5h-5zM837 326h5v5h-5zM853 326h5v5h-5zM868 326h6v5h-6z"/>
<path fill="#2e6e8e" d="M454 182h6v6h-6zM407 188h5v5h-5zM481 188h5v5h-5zM348 193h6v5h-6zM391 193h5v5h-5zM470 193h6v5h-6zM555 193h6v5h-6zM815 193h6v5h-6zM338 198h5v6h-5zM433 198h6v6h-6zM481 198h5v6h-5zM815 198h6v6h-6zM173 204h27v5h-27zM385 204h6v5h-6zM423 204h5v5h-5zM470 204h6v5h-6zM513 204h5v5h-5zM248 209h5v5h-5zM391 209h5v5h-5zM470 209h6v5h-6zM513 209h5v5h-5zM248 214h5v6h-5zM301 214h5v6h-5zM385 214h6v6h-6zM428 214h5v6h-5zM497 214h5v6h-5zM513 214h5v6h-5zM555 214h6v6h-6zM614 214h5v6h-5zM375 220h5v5h-5zM396 220h5v5h-5zM428 220h5v5h-5zM439 220h10v5h-10zM476 220h10v5h-10zM545 220h5v5h-5zM582 220h5v5h-5zM598 220h21v5h-21zM688 220h5v5h-5zM794 220h5v5h-5zM810 220h5v5h-5zM847 220h6v5h-6zM348 225h11v5h-11zM428 225h11v5h-11zM513 225h5v5h-5zM555 225h11v5h-11zM677 225h6v5h-6zM237 230h5v5h-5zM396 230h5v5h-5zM677 230h6v5h-6zM810 230h11v5h-11zM842 230h11v5h-11zM248 235h5v6h-5zM348 235h6v6h-6zM370 235h5v6h-5zM391 235h5v6h-5zM454 235h6v6h-6zM492 235h5v6h-5zM508 235h5v6h-5zM561 235h5v6h-5zM587 235h5v6h-5zM677 235h6v6h-6zM752 235h5v6h-5zM773 235h5v6h-5zM799 235h6v6h-6zM815 235h6v6h-6zM842 235h5v6h-5zM380 241h5v5h-5zM407 241h5v5h-5zM545 241h5v5h-5zM555 241h11v5h-11zM667 241h5v5h-5zM677 241h6v5h-6zM688 241h5v5h-5zM380 246h5v5h-5zM391 246h5v5h-5zM439 246h5v5h-5zM805 246h5v5h-5zM237 251h5v6h-5zM332 251h6v6h-6zM513 251h10v6h-10zM630 251h5v6h-5zM863 251h5v6h-5zM332 257h6v5h-6zM364 257h6v5h-6zM380 257h5v5h-5zM407 257h5v5h-5zM423 257h5v5h-5zM439 257h5v5h-5zM470 257h6v5h-6zM481 257h5v5h-5zM513 257h10v5h-10zM555 257h6v5h-6zM614 257h10v5h-10zM630 257h5v5h-5zM640 257h6v5h-6zM651 257h5v5h-5zM794 257h5v5h-5zM51 262h21v5h-21zM99 262h5v5h-5zM120 262h5v5h-5zM136 262h5v5h-5zM152 262h5v5h-5zM163 262h5v5h-5zM173 262h6v5h-6zM274 262h5v5h-5zM396 262h5v5h-5zM513 262h5v5h-5zM555 262h11v5h-11zM582 262h5v5h-5zM667 262h5v5h-5zM677 262h6v5h-6zM847 262h6v5h-6zM890 262h42v5h-42zM937 262h11v5h-11zM332 267h6v6h-6zM348 267h6v6h-6zM407 267h5v6h-5zM423 267h5v6h-5zM460 267h5v6h-5zM476 267h10v6h-10zM571 267h6v6h-6zM582 267h5v6h-5zM603 267h11v6h-11zM624 267h6v6h-6zM762 267h6v6h-6zM863 267h5v6h-5zM895 267h5v6h-5zM51 273h21v5h-21zM99 273h5v5h-5zM120 273h5v5h-5zM136 273h5v5h-5zM163 273h5v5h-5zM173 273h6v5h-6zM332 273h6v5h-6zM343 273h5v5h-5zM370 273h5v5h-5zM380 273h5v5h-5zM423 273h21v5h-21zM454 273h6v5h-6zM492 273h10v5h-10zM619 273h5v5h-5zM683 273h5v5h-5zM752 273h5v5h-5zM842 273h5v5h-5zM900 273h6v5h-6zM921 273h11v5h-11zM237 278h5v5h-5zM359 278h5v5h-5zM396 278h5v5h-5zM449 278h5v5h-5zM677 278h6v5h-6zM752 278h5v5h-5zM799 278h6v5h-6zM847 278h6v5h-6zM173 283h27v6h-27zM216 283h10v6h-10zM354 283h10v6h-10zM385 283h6v6h-6zM518 283h5v6h-5zM545 283h5v6h-5zM582 283h5v6h-5zM667 283h5v6h-5zM677 283h6v6h-6zM693 283h11v6h-11zM216 289h10v5h-10zM237 289h5v5h-5zM248 289h5v5h-5zM364 289h11v5h-11zM407 289h5v5h-5zM454 289h16v5h-16zM497 289h5v5h-5zM518 289h5v5h-5zM577 289h5v5h-5zM587 289h5v5h-5zM614 289h16v5h-16zM667 289h5v5h-5zM762 289h6v5h-6zM847 289h6v5h-6zM868 289h6v5h-6zM94 294h5v5h-5zM110 294h5v5h-5zM120 294h5v5h-5zM136 294h5v5h-5zM147 294h10v5h-10zM163 294h5v5h-5zM200 294h5v5h-5zM237 294h5v5h-5zM380 294h5v5h-5zM401 294h6v5h-6zM423 294h5v5h-5zM444 294h10v5h-10zM470 294h6v5h-6zM481 294h5v5h-5zM497 294h5v5h-5zM651 294h5v5h-5zM773 294h5v5h-5zM794 294h5v5h-5zM815 294h6v5h-6zM863 294h5v5h-5zM900 294h21v5h-21zM51 299h21v5h-21zM99 299h5v5h-5zM115 299h5v5h-5zM136 299h5v5h-5zM157 299h11v5h-11zM258 299h5v5h-5zM290 299h5v5h-5zM364 299h11v5h-11zM481 299h5v5h-5zM518 299h5v5h-5zM529 299h5v5h-5zM709 299h6v5h-6zM810 299h5v5h-5zM895 299h16v5h-16zM921 299h6v5h-6zM943 299h5v5h-5zM205 304h5v6h-5zM285 304h5v6h-5zM380 304h5v6h-5zM439 304h5v6h-5zM465 304h5v6h-5zM492 304h5v6h-5zM582 304h5v6h-5zM598 304h5v6h-5zM789 304h5v6h-5zM810 304h11v6h-11zM221 310h5v5h-5zM295 310h6v5h-6zM370 310h5v5h-5zM407 310h5v5h-5zM571 310h6v5h-6zM592 310h6v5h-6zM789 310h5v5h-5zM884 310h6v5h-6zM157 315h6v5h-6zM269 315h16v5h-16zM417 315h6v5h-6zM465 315h5v5h-5zM598 315h16v5h-16zM640 315h6v5h-6zM651 315h5v5h-5zM688 315h16v5h-16zM757 315h5v5h-5zM789 315h5v5h-5zM890 315h42v5h-42zM72 320h22v6h-22zM104 320h6v6h-6zM115 320h5v6h-5zM125 320h11v6h-11zM141 320h6v6h-6zM157 320h6v6h-6zM200 320h10v6h-10zM279 320h11v6h-11zM348 320h6v6h-6zM444 320h5v6h-5zM460 320h10v6h-10zM497 320h5v6h-5zM523 320h6v6h-6zM539 320h6v6h-6zM672 320h5v6h-5zM693 320h11v6h-11zM736 320h10v6h-10zM863 320h5v6h-5zM874 320h5v6h-5zM932 320h5v6h-5zM168 326h5v5h-5zM205 326h5v5h-5zM216 326h5v5h-5zM237 326h5v5h-5zM258 326h5v5h-5zM343 326h5v5h-5zM444 326h5v5h-5zM460 326h5v5h-5zM619 326h5v5h-5zM890 326h5v5h-5z"/>
<path fill="#31668e" d="M354 182h10v6h-10zM826 182h11v6h-11zM354 188h10v5h-10zM391 188h5v5h-5zM619 188h5v5h-5zM370 193h5v5h-5zM433 193h21v5h-21zM847 193h6v5h-6zM391 198h5v6h-5zM513 198h5v6h-5zM391 204h10v5h-10zM354 209h5v5h-5zM354 214h5v6h-5zM603 214h11v6h-11zM354 220h5v5h-5zM370 220h5v5h-5zM433 220h6v5h-6zM762 220h6v5h-6zM359 225h5v5h-5zM391 225h5v5h-5zM248 230h5v5h-5zM301 235h5v6h-5zM476 235h5v6h-5zM513 235h5v6h-5zM582 235h5v6h-5zM805 235h5v6h-5zM847 235h6v6h-6zM301 241h5v5h-5zM396 241h5v5h-5zM449 241h5v5h-5zM248 246h5v5h-5zM423 246h5v5h-5zM476 246h5v5h-5zM248 251h5v6h-5zM359 251h5v6h-5zM492 251h5v6h-5zM561 251h5v6h-5zM375 257h5v5h-5zM428 257h11v5h-11zM476 257h5v5h-5zM773 257h5v5h-5zM94 262h5v5h-5zM110 262h5v5h-5zM147 262h5v5h-5zM179 262h21v5h-21zM248 262h5v5h-5zM380 262h11v5h-11zM810 262h11v5h-11zM51 267h43v6h-43zM115 267h32v6h-32zM152 267h27v6h-27zM338 267h5v6h-5zM385 267h6v6h-6zM428 267h11v6h-11zM454 267h6v6h-6zM577 267h5v6h-5zM614 267h10v6h-10zM630 267h5v6h-5zM693 267h6v6h-6zM794 267h5v6h-5zM900 267h48v6h-48zM179 273h21v5h-21zM385 273h6v5h-6zM481 273h5v5h-5zM561 273h5v5h-5zM592 273h27v5h-27zM677 273h6v5h-6zM847 273h6v5h-6zM890 273h10v5h-10zM906 273h15v5h-15zM937 273h11v5h-11zM301 278h5v5h-5zM338 278h5v5h-5zM380 278h5v5h-5zM561 278h5v5h-5zM667 278h5v5h-5zM237 283h5v6h-5zM301 283h5v6h-5zM396 283h5v6h-5zM454 283h6v6h-6zM470 283h16v6h-16zM497 283h5v6h-5zM508 283h5v6h-5zM577 283h5v6h-5zM683 283h10v6h-10zM847 283h6v6h-6zM863 283h5v6h-5zM301 289h5v5h-5zM396 289h5v5h-5zM481 289h5v5h-5zM508 289h5v5h-5zM693 289h6v5h-6zM863 289h5v5h-5zM173 294h27v5h-27zM332 294h6v5h-6zM428 294h16v5h-16zM476 294h5v5h-5zM545 294h5v5h-5zM667 294h5v5h-5zM677 294h6v5h-6zM805 294h5v5h-5zM847 294h6v5h-6zM168 299h32v5h-32zM354 299h5v5h-5zM396 299h5v5h-5zM412 299h16v5h-16zM465 299h5v5h-5zM497 299h5v5h-5zM545 299h10v5h-10zM571 299h11v5h-11zM677 299h6v5h-6zM688 299h5v5h-5zM842 299h5v5h-5zM200 304h5v6h-5zM460 304h5v6h-5zM470 304h6v6h-6zM481 304h5v6h-5zM550 304h5v6h-5zM571 304h11v6h-11zM603 304h11v6h-11zM672 304h5v6h-5zM794 304h5v6h-5zM895 304h5v6h-5zM216 310h5v5h-5zM412 310h5v5h-5zM444 310h5v5h-5zM460 310h5v5h-5zM470 310h6v5h-6zM486 310h6v5h-6zM577 310h5v5h-5zM683 310h5v5h-5zM762 310h6v5h-6zM794 310h11v5h-11zM837 310h5v5h-5zM890 310h10v5h-10zM51 315h21v5h-21zM120 315h5v5h-5zM136 315h5v5h-5zM147 315h10v5h-10zM163 315h5v5h-5zM173 315h6v5h-6zM226 315h6v5h-6zM364 315h11v5h-11zM423 315h5v5h-5zM486 315h6v5h-6zM592 315h6v5h-6zM614 315h5v5h-5zM683 315h5v5h-5zM778 315h6v5h-6zM794 315h5v5h-5zM937 315h11v5h-11zM51 320h21v6h-21zM120 320h5v6h-5zM136 320h5v6h-5zM147 320h10v6h-10zM163 320h5v6h-5zM173 320h6v6h-6zM226 320h11v6h-11zM295 320h6v6h-6zM375 320h5v6h-5zM486 320h6v6h-6zM529 320h5v6h-5zM603 320h11v6h-11zM709 320h6v6h-6zM746 320h6v6h-6zM762 320h6v6h-6zM789 320h5v6h-5zM895 320h37v6h-37zM937 320h11v6h-11zM72 326h22v5h-22zM104 326h6v5h-6zM115 326h5v5h-5zM125 326h11v5h-11zM141 326h6v5h-6zM157 326h6v5h-6zM173 326h6v5h-6zM200 326h5v5h-5zM370 326h5v5h-5zM412 326h5v5h-5zM508 326h5v5h-5zM571 326h6v5h-6zM598 326h10v5h-10zM709 326h6v5h-6zM752 326h5v5h-5zM895 326h11v5h-11zM916 326h32v5h-32z"/>
<path fill="#355e8d" d="M555 182h11v6h-11zM396 188h5v5h-5zM433 188h6v5h-6zM338 193h5v5h-5zM354 193h10v5h-10zM460 193h5v5h-5zM561 193h5v5h-5zM354 198h10v6h-10zM407 198h5v6h-5zM338 220h5v5h-5zM359 220h5v5h-5zM380 220h5v5h-5zM492 220h5v5h-5zM561 220h5v5h-5zM571 220h6v5h-6zM667 220h5v5h-5zM338 235h5v6h-5zM497 235h5v6h-5zM592 235h6v6h-6zM370 241h5v5h-5zM391 241h5v5h-5zM752 246h5v5h-5zM338 251h5v6h-5zM396 251h5v6h-5zM454 251h6v6h-6zM571 251h6v6h-6zM396 257h5v5h-5zM460 257h5v5h-5zM545 257h5v5h-5zM667 257h5v5h-5zM677 257h11v5h-11zM752 257h5v5h-5zM810 257h5v5h-5zM863 257h5v5h-5zM391 262h5v5h-5zM454 262h6v5h-6zM545 262h5v5h-5zM571 262h11v5h-11zM94 267h5v6h-5zM110 267h5v6h-5zM147 267h5v6h-5zM179 267h21v6h-21zM237 267h5v6h-5zM301 267h5v6h-5zM470 267h6v6h-6zM545 267h5v6h-5zM683 267h5v6h-5zM810 267h5v6h-5zM248 273h5v5h-5zM301 273h5v5h-5zM396 273h5v5h-5zM577 273h10v5h-10zM805 273h16v5h-16zM248 278h5v5h-5zM454 278h6v5h-6zM555 278h6v5h-6zM248 283h5v6h-5zM571 283h6v6h-6zM492 289h5v5h-5zM582 289h5v5h-5zM592 289h6v5h-6zM688 289h5v5h-5zM752 289h5v5h-5zM773 289h5v5h-5zM348 294h6v5h-6zM359 294h5v5h-5zM396 294h5v5h-5zM492 294h5v5h-5zM513 294h5v5h-5zM561 294h5v5h-5zM571 294h6v5h-6zM810 294h5v5h-5zM338 299h5v5h-5zM359 299h5v5h-5zM375 299h5v5h-5zM439 299h10v5h-10zM508 299h5v5h-5zM555 299h6v5h-6zM582 299h5v5h-5zM651 299h5v5h-5zM683 299h5v5h-5zM752 299h5v5h-5zM157 304h6v6h-6zM168 304h5v6h-5zM332 304h6v6h-6zM375 304h5v6h-5zM412 304h11v6h-11zM476 304h5v6h-5zM497 304h5v6h-5zM518 304h5v6h-5zM614 304h10v6h-10zM900 304h6v6h-6zM916 304h32v6h-32zM157 310h6v5h-6zM168 310h5v5h-5zM205 310h5v5h-5zM237 310h5v5h-5zM332 310h6v5h-6zM348 310h6v5h-6zM417 310h6v5h-6zM640 310h6v5h-6zM863 310h5v5h-5zM916 310h32v5h-32zM179 315h21v5h-21zM216 315h5v5h-5zM237 315h5v5h-5zM258 315h5v5h-5zM290 315h5v5h-5zM348 315h6v5h-6zM375 315h5v5h-5zM428 315h5v5h-5zM444 315h5v5h-5zM460 315h5v5h-5zM508 315h5v5h-5zM555 315h6v5h-6zM630 315h5v5h-5zM667 315h5v5h-5zM863 315h5v5h-5zM216 320h5v6h-5zM258 320h5v6h-5zM269 320h10v6h-10zM338 320h5v6h-5zM407 320h10v6h-10zM449 320h5v6h-5zM614 320h5v6h-5zM683 320h10v6h-10zM794 320h5v6h-5zM842 320h5v6h-5zM884 320h11v6h-11zM94 326h5v5h-5zM110 326h5v5h-5zM147 326h10v5h-10zM163 326h5v5h-5zM332 326h6v5h-6zM364 326h6v5h-6zM417 326h6v5h-6zM439 326h5v5h-5zM449 326h5v5h-5zM545 326h5v5h-5zM608 326h11v5h-11zM677 326h6v5h-6zM805 326h5v5h-5zM842 326h5v5h-5zM906 326h10v5h-10z"/>
<path fill="#39568c" d="M412 188h21v5h-21zM248 193h5v5h-5zM476 204h10v5h-10zM391 214h5v6h-5zM385 220h6v5h-6zM454 220h6v5h-6zM815 220h6v5h-6zM248 225h5v5h-5zM301 225h5v5h-5zM815 225h6v5h-6zM354 235h10v6h-10zM470 235h6v6h-6zM428 246h5v5h-5zM348 251h6v6h-6zM391 251h5v6h-5zM577 251h10v6h-10zM301 257h5v5h-5zM348 257h6v5h-6zM449 257h5v5h-5zM497 257h5v5h-5zM815 257h6v5h-6zM513 267h5v6h-5zM561 267h5v6h-5zM752 267h5v6h-5zM815 267h6v6h-6zM847 267h6v6h-6zM470 273h6v5h-6zM497 278h5v5h-5zM630 278h5v5h-5zM805 278h5v5h-5zM391 283h5v6h-5zM492 283h5v6h-5zM513 283h5v6h-5zM561 283h5v6h-5zM391 289h5v5h-5zM476 289h5v5h-5zM630 289h5v5h-5zM454 294h6v5h-6zM577 294h10v5h-10zM248 299h5v5h-5zM301 299h5v5h-5zM385 299h6v5h-6zM407 299h5v5h-5zM428 299h11v5h-11zM470 299h11v5h-11zM815 299h6v5h-6zM51 304h21v6h-21zM99 304h5v6h-5zM163 304h5v6h-5zM173 304h27v6h-27zM301 304h5v6h-5zM338 304h5v6h-5zM370 304h5v6h-5zM423 304h5v6h-5zM433 304h6v6h-6zM513 304h5v6h-5zM677 304h6v6h-6zM752 304h5v6h-5zM799 304h11v6h-11zM842 304h5v6h-5zM906 304h10v6h-10zM163 310h5v5h-5zM173 310h6v5h-6zM200 310h5v5h-5zM338 310h5v5h-5zM364 310h6v5h-6zM545 310h5v5h-5zM555 310h6v5h-6zM672 310h5v5h-5zM709 310h6v5h-6zM900 310h16v5h-16zM332 315h6v5h-6zM380 315h5v5h-5zM433 315h11v5h-11zM449 315h5v5h-5zM571 315h6v5h-6zM619 315h5v5h-5zM677 315h6v5h-6zM762 315h6v5h-6zM773 315h5v5h-5zM842 315h5v5h-5zM179 320h21v6h-21zM332 320h6v6h-6zM380 320h5v6h-5zM417 320h6v6h-6zM439 320h5v6h-5zM454 320h6v6h-6zM470 320h6v6h-6zM492 320h5v6h-5zM571 320h6v6h-6zM582 320h5v6h-5zM630 320h5v6h-5zM667 320h5v6h-5zM179 326h21v5h-21zM396 326h5v5h-5zM492 326h10v5h-10zM667 326h5v5h-5zM863 326h5v5h-5z"/>
<path fill="#3d4e8a" d="M454 193h6v5h-6zM412 198h21v6h-21zM359 214h5v6h-5zM391 220h5v5h-5zM454 241h6v5h-6zM752 241h5v5h-5zM301 246h5v5h-5zM481 246h5v5h-5zM248 257h5v5h-5zM391 257h5v5h-5zM454 257h6v5h-6zM561 257h5v5h-5zM847 257h6v5h-6zM248 267h5v6h-5zM359 267h5v6h-5zM667 267h5v6h-5zM677 267h6v6h-6zM688 267h5v6h-5zM359 273h5v5h-5zM476 273h5v5h-5zM513 273h5v5h-5zM752 283h5v6h-5zM470 289h6v5h-6zM513 289h5v5h-5zM391 294h5v5h-5zM449 299h5v5h-5zM460 299h5v5h-5zM513 299h5v5h-5zM847 299h6v5h-6zM354 304h5v6h-5zM385 304h6v6h-6zM428 304h5v6h-5zM449 304h5v6h-5zM640 304h6v6h-6zM667 304h5v6h-5zM847 304h6v6h-6zM120 310h5v5h-5zM147 310h10v5h-10zM258 310h5v5h-5zM423 310h5v5h-5zM449 310h5v5h-5zM598 310h5v5h-5zM667 310h5v5h-5zM221 315h5v5h-5zM248 315h5v5h-5zM385 315h6v5h-6zM454 315h6v5h-6zM470 315h6v5h-6zM513 315h5v5h-5zM545 315h5v5h-5zM561 315h5v5h-5zM577 315h10v5h-10zM805 315h16v5h-16zM847 315h6v5h-6zM221 320h5v6h-5zM354 320h10v6h-10zM423 320h5v6h-5zM577 320h5v6h-5zM619 320h5v6h-5zM651 320h5v6h-5zM805 320h5v6h-5zM248 326h5v5h-5zM423 326h5v5h-5zM555 326h6v5h-6zM847 326h6v5h-6z"/>
<path fill="#404588" d="M449 220h5v5h-5zM375 241h5v5h-5zM433 246h6v5h-6zM354 251h5v6h-5zM338 257h5v5h-5zM354 257h10v5h-10zM338 289h5v5h-5zM348 289h6v5h-6zM359 289h5v5h-5zM338 294h5v5h-5zM354 294h5v5h-5zM380 299h5v5h-5zM391 299h5v5h-5zM492 299h5v5h-5zM364 304h6v6h-6zM396 304h5v6h-5zM407 304h5v6h-5zM545 304h5v6h-5zM561 304h5v6h-5zM179 310h21v5h-21zM290 310h5v5h-5zM439 310h5v5h-5zM497 310h5v5h-5zM518 310h5v5h-5zM561 310h5v5h-5zM582 310h5v5h-5zM603 310h11v5h-11zM630 310h5v5h-5zM842 310h11v5h-11zM354 315h10v5h-10zM492 315h10v5h-10zM752 315h5v5h-5zM290 320h5v6h-5zM518 320h5v6h-5zM555 320h6v6h-6zM640 320h6v6h-6zM810 320h5v6h-5zM301 326h5v5h-5zM348 326h6v5h-6zM375 326h5v5h-5zM428 326h11v5h-11zM513 326h5v5h-5zM561 326h5v5h-5zM577 326h5v5h-5zM810 326h5v5h-5z"/>
<path fill="#443b84" d="M354 267h5v6h-5zM396 267h5v6h-5zM338 273h5v5h-5zM348 273h6v5h-6zM391 273h5v5h-5zM454 299h6v5h-6zM561 299h5v5h-5zM391 304h5v6h-5zM454 304h6v6h-6zM630 304h5v6h-5zM428 310h5v5h-5zM614 310h5v5h-5zM752 310h5v5h-5zM301 315h5v5h-5zM338 315h5v5h-5zM396 315h5v5h-5zM476 315h5v5h-5zM237 320h5v6h-5zM385 320h6v6h-6zM428 320h11v6h-11zM476 320h5v6h-5zM545 320h5v6h-5zM677 320h6v6h-6zM815 320h6v6h-6zM847 320h6v6h-6zM338 326h5v5h-5zM385 326h6v5h-6zM815 326h6v5h-6z"/>
<path fill="#46327e" d="M354 289h5v5h-5zM359 304h5v6h-5zM555 304h6v6h-6zM375 310h16v5h-16zM454 310h6v5h-6zM476 310h5v5h-5zM492 310h5v5h-5zM619 310h5v5h-5zM805 310h5v5h-5zM481 315h5v5h-5zM396 320h5v6h-5zM481 320h5v6h-5zM508 320h5v6h-5zM359 326h5v5h-5zM380 326h5v5h-5zM454 326h6v5h-6zM582 326h5v5h-5z"/>
<path fill="#482979" d="M391 267h5v6h-5zM354 273h5v5h-5zM354 310h10v5h-10zM396 310h5v5h-5zM433 310h6v5h-6zM481 310h5v5h-5zM508 310h5v5h-5zM677 310h6v5h-6zM391 315h5v5h-5zM248 320h5v6h-5zM301 320h5v6h-5zM752 320h5v6h-5zM354 326h5v5h-5zM391 326h5v5h-5z"/>
<path fill="#481f70" d="M248 310h5v5h-5zM810 310h5v5h-5zM391 320h5v6h-5zM561 320h5v6h-5z"/>
<path fill="#481467" d="M815 310h6v5h-6zM513 320h5v6h-5z"/>
<path fill="#46085c" d="M301 310h5v5h-5zM391 310h5v5h-5zM513 310h5v5h-5z"/>
</g>
<rect class="k" x="51.5" y="177.5" width="897" height="154"/>
<text class="t m" x="500.15" y="169.6">Frame-wise class probability</text>
<g class="k">
<path d="M51.5 180.5h-4.9"/><path d="M51.5 207.5h-4.9"/><path d="M51.5 233.5h-4.9"/><path d="M51.5 260.5h-4.9"/><path d="M51.5 286.5h-4.9"/><path d="M51.5 313.5h-4.9"/>
<path d="M54.5 331.5v4.9"/><path d="M160.5 331.5v4.9"/><path d="M266.5 331.5v4.9"/><path d="M372.5 331.5v4.9"/><path d="M478.5 331.5v4.9"/><path d="M585.5 331.5v4.9"/><path d="M691.5 331.5v4.9"/><path d="M797.5 331.5v4.9"/><path d="M903.5 331.5v4.9"/>
</g>
<text class="e" transform="translate(41.40 184.65) scale(0.930 1)">0</text>
<text class="e" transform="translate(41.40 211.19) scale(0.930 1)">5</text>
<text class="e" transform="translate(41.40 237.73) scale(0.930 1)">10</text>
<text class="e" transform="translate(41.40 264.27) scale(0.930 1)">15</text>
<text class="e" transform="translate(41.40 290.81) scale(0.930 1)">20</text>
<text class="e" transform="translate(41.40 317.35) scale(0.930 1)">25</text>
<text class="m" transform="translate(53.80 348.90) scale(0.930 1)">0</text>
<text class="m" transform="translate(159.96 348.90) scale(0.930 1)">20</text>
<text class="m" transform="translate(266.11 348.90) scale(0.930 1)">40</text>
<text class="m" transform="translate(372.27 348.90) scale(0.930 1)">60</text>
<text class="m" transform="translate(478.42 348.90) scale(0.930 1)">80</text>
<text class="m" transform="translate(584.57 348.90) scale(0.930 1)">100</text>
<text class="m" transform="translate(690.73 348.90) scale(0.930 1)">120</text>
<text class="m" transform="translate(796.88 348.90) scale(0.930 1)">140</text>
<text class="m" transform="translate(903.04 348.90) scale(0.930 1)">160</text>

<text class="m" x="499.9" y="364">Time</text>
<text class="m" transform="translate(20.4 256.2) rotate(-90)">Labels</text>
<rect x="231.5" y="400.5" width="538" height="26" fill="url(#g)"/>
<rect class="k" x="231.5" y="400.5" width="538" height="26"/>
<g class="k">
<path d="M275.5 426.5v4.9"/><path d="M357.5 426.5v4.9"/><path d="M440.5 426.5v4.9"/><path d="M522.5 426.5v4.9"/><path d="M604.5 426.5v4.9"/><path d="M686.5 426.5v4.9"/><path d="M769.5 426.5v4.9"/>
</g>
<text class="m" transform="translate(275.14 444.20) scale(0.930 1)">−30</text>
<text class="m" transform="translate(357.41 444.20) scale(0.930 1)">−25</text>
<text class="m" transform="translate(439.68 444.20) scale(0.930 1)">−20</text>
<text class="m" transform="translate(521.94 444.20) scale(0.930 1)">−15</text>
<text class="m" transform="translate(604.21 444.20) scale(0.930 1)">−10</text>
<text class="m" transform="translate(686.48 444.20) scale(0.930 1)">−5</text>
<text class="m" transform="translate(768.75 444.20) scale(0.930 1)">0</text>

</svg>
</body></html>
